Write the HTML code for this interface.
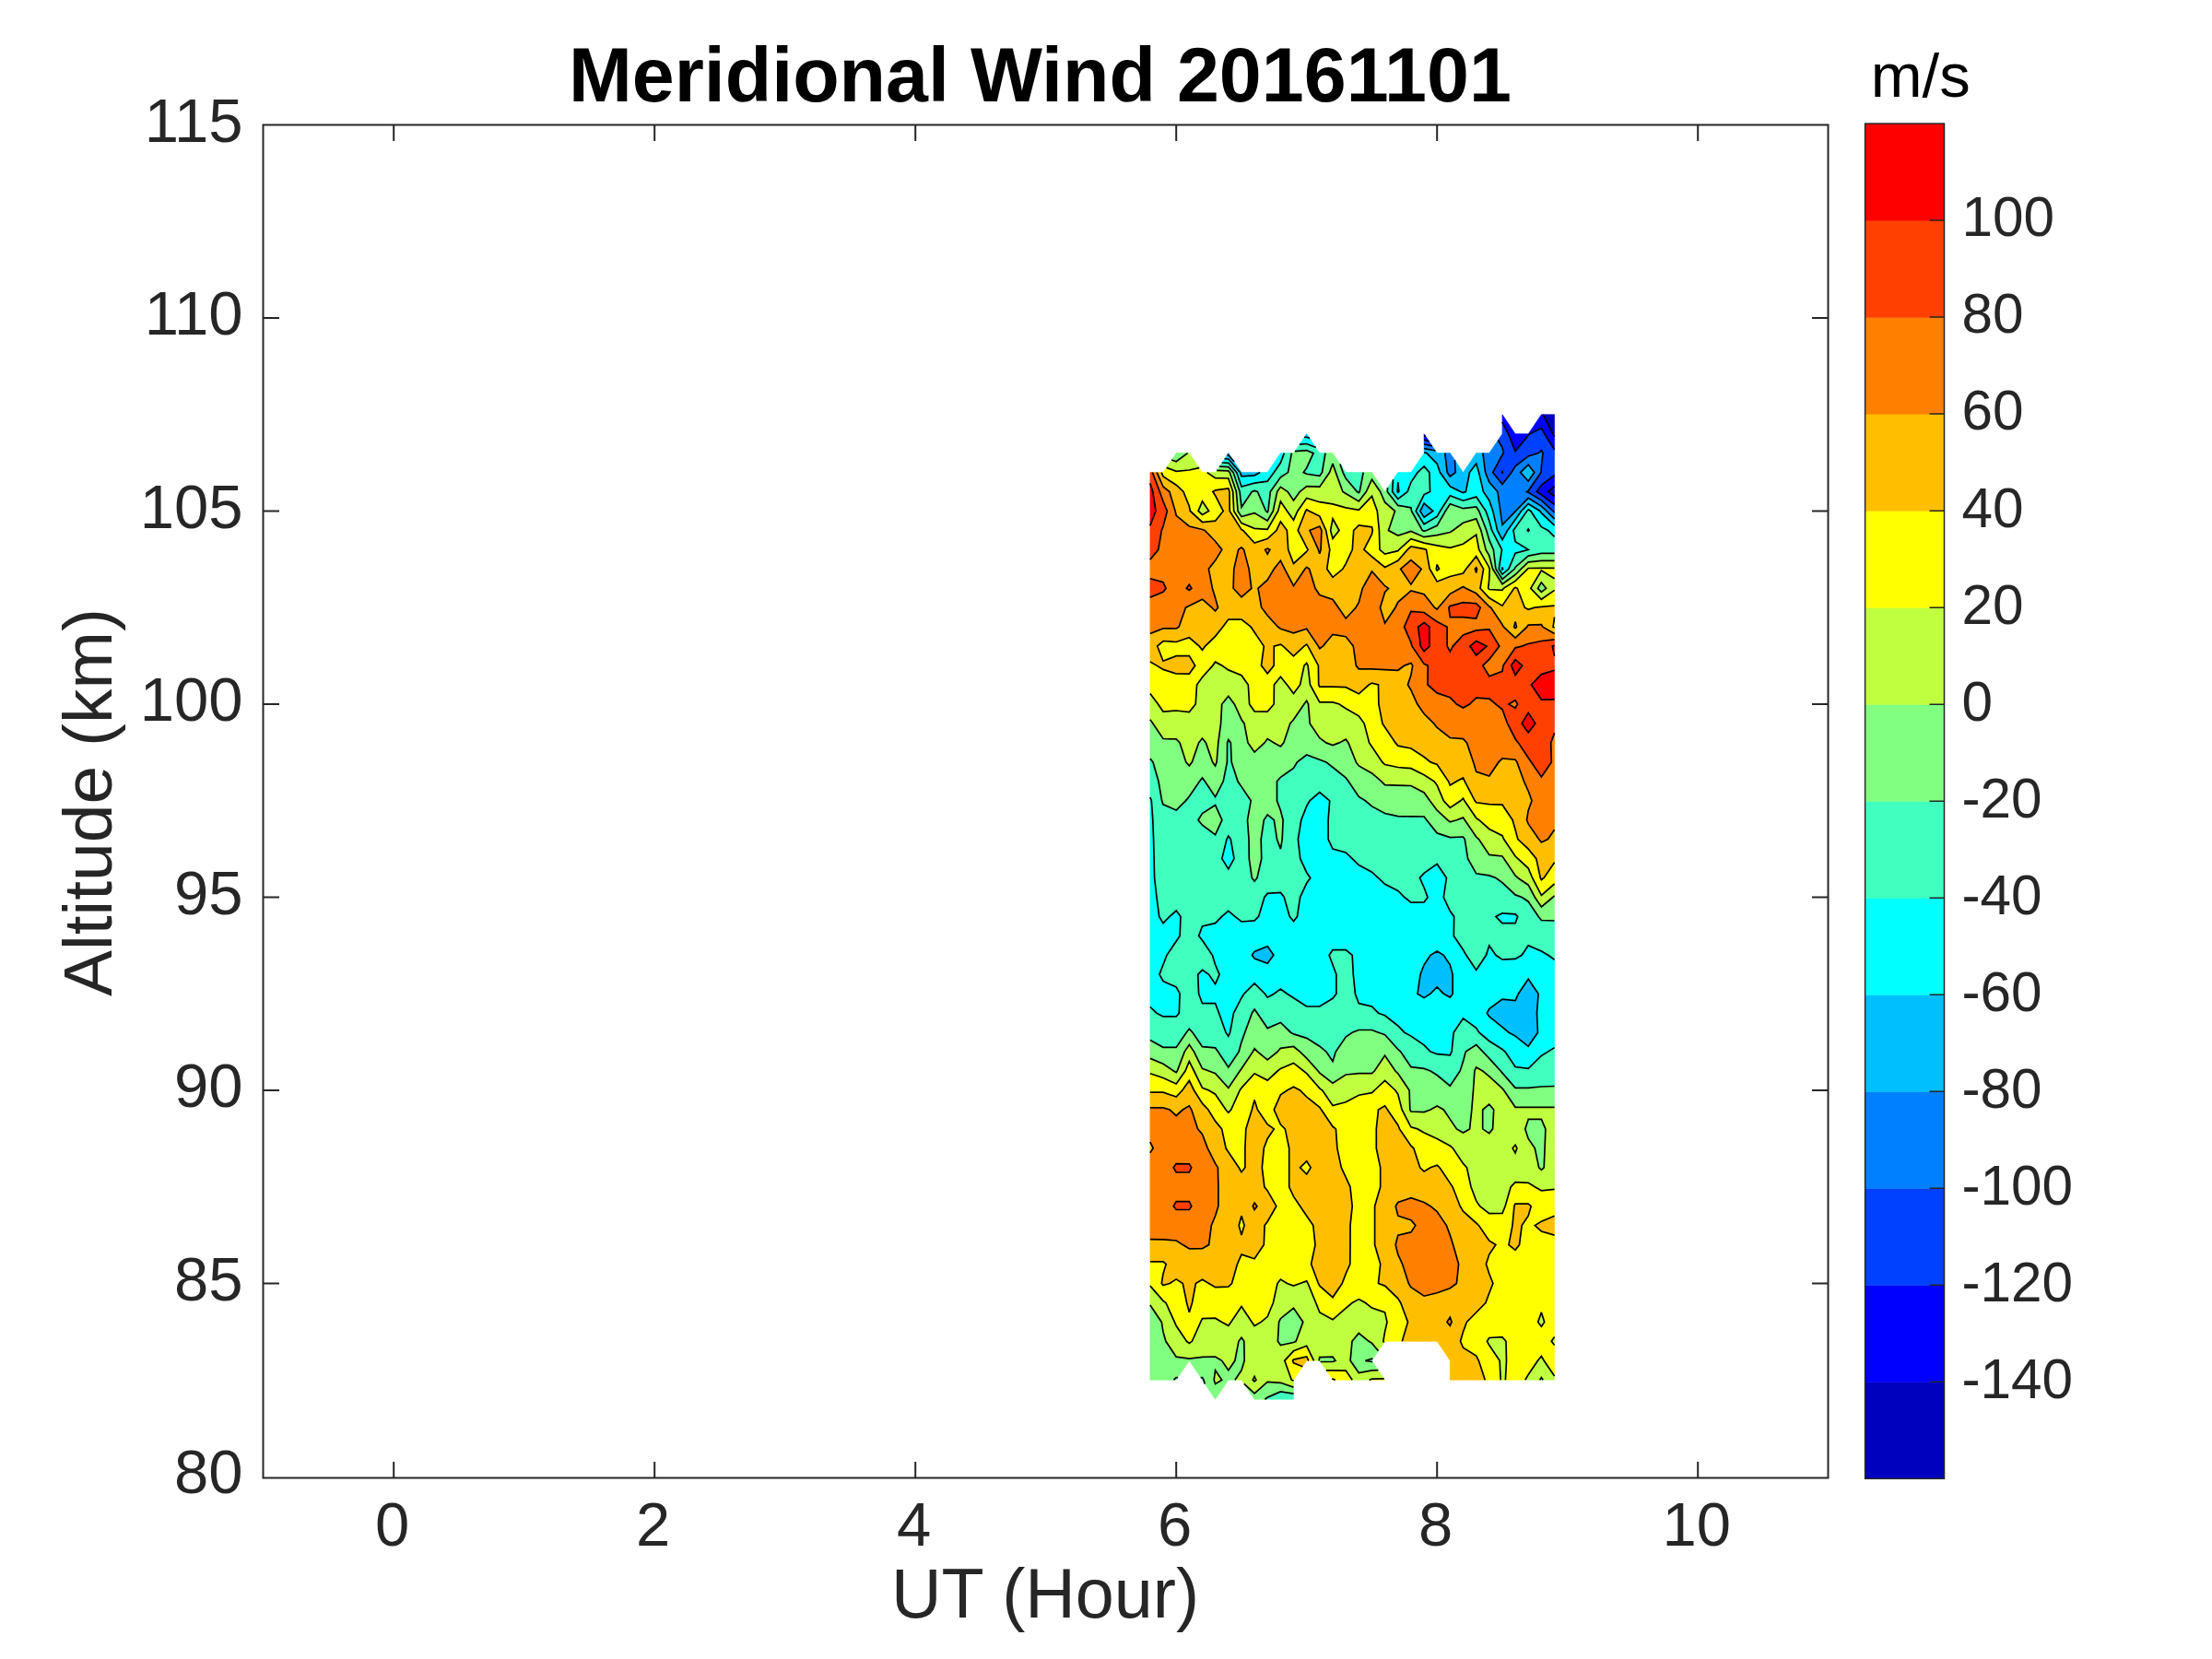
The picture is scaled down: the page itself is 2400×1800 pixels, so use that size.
<!DOCTYPE html><html><head><meta charset="utf-8"><title>Meridional Wind 20161101</title>
<style>html,body{margin:0;padding:0;background:#fff}svg{display:block}text{font-family:"Liberation Sans",sans-serif}</style></head><body>
<svg width="2400" height="1800" viewBox="0 0 2400 1800">
<rect width="2400" height="1800" fill="#fff"/>
<g id="contours"><path fill="#0000bf" stroke="#0000bf" stroke-width="0.6" stroke-linejoin="round" fill-rule="evenodd" d="M1674.3,449.8 1686.6,449.8 1686.6,470.7 1686.6,473.6 1684.8,470.7ZM1545.1,473.0 1545.1,470.7 1546.8,473.3ZM1679.5,533.5 1686.6,527.6 1686.6,533.5 1686.6,538.2Z"/>
<path fill="#0000ff" stroke="#0000ff" stroke-width="0.6" stroke-linejoin="round" fill-rule="evenodd" d="M1630.0,458.1 1630.0,449.8 1644.1,470.7 1658.2,470.7 1672.4,449.8 1674.3,449.8 1684.8,470.7 1686.6,473.6 1686.6,488.0 1675.9,470.7 1672.4,464.5 1659.8,470.7 1658.2,472.2 1644.1,489.6 1636.4,470.7ZM1545.1,477.5 1545.1,473.0 1546.8,473.3 1550.4,478.6ZM1629.5,512.6 1630.0,511.7 1630.4,512.6 1630.0,513.2ZM1667.3,533.5 1672.4,526.3 1686.6,515.6 1686.6,527.6 1679.5,533.5 1686.6,538.2 1686.6,547.5 1672.4,536.7Z"/>
<path fill="#0040ff" stroke="#0040ff" stroke-width="0.6" stroke-linejoin="round" fill-rule="evenodd" d="M1630.0,470.7 1630.0,458.1 1636.4,470.7 1644.1,489.6 1658.3,472.2 1659.8,470.7 1672.4,464.5 1675.9,470.7 1686.6,488.0 1686.6,491.6 1686.6,512.6 1686.6,515.6 1672.4,526.3 1667.3,533.5 1672.4,536.7 1686.6,547.5 1686.6,554.5 1686.6,556.2 1684.9,554.5 1672.4,542.9 1658.2,534.2 1656.5,533.5 1658.2,532.5 1672.0,512.6 1672.4,505.6 1674.1,491.6 1672.4,488.7 1669.3,491.6 1658.2,494.9 1644.1,505.9 1640.0,512.6 1629.9,525.4 1619.7,512.6 1630.0,493.5 1631.4,491.7 1630.0,485.7 1625.4,477.5ZM1630.0,511.7 1629.5,512.6 1630.0,513.2 1630.4,512.6ZM1545.1,482.0 1545.1,477.5 1550.4,478.6 1553.9,483.8Z"/>
<path fill="#0080ff" stroke="#0080ff" stroke-width="0.6" stroke-linejoin="round" fill-rule="evenodd" d="M1545.1,486.6 1545.1,482.0 1553.9,483.8 1557.4,489.0ZM1615.8,491.6 1625.4,477.5 1630.0,485.7 1631.4,491.6 1630.0,493.5 1619.7,512.6 1630.0,525.4 1640.0,512.6 1644.1,505.9 1658.2,494.9 1669.3,491.6 1672.4,488.7 1674.1,491.6 1672.4,505.6 1672.0,512.6 1658.2,532.5 1656.5,533.5 1658.2,534.2 1672.4,542.9 1684.9,554.5 1686.6,556.2 1686.6,563.2 1678.1,554.5 1672.4,549.2 1658.2,540.4 1644.4,554.5 1644.1,554.9 1630.0,569.5 1627.9,554.5 1624.9,533.5 1615.8,523.1 1611.6,512.6 1608.9,491.6ZM1658.2,504.2 1649.6,512.6 1658.2,522.0 1664.8,512.6ZM1331.4,493.7 1332.8,491.6 1339.1,501.0 1332.8,493.8ZM1567.8,491.6 1573.3,491.6 1578.4,499.1 1579.2,512.6 1573.3,517.0 1570.2,512.6Z"/>
<path fill="#00bfff" stroke="#00bfff" stroke-width="0.6" stroke-linejoin="round" fill-rule="evenodd" d="M1415.1,474.5 1417.7,470.7 1421.0,475.6 1417.7,474.3ZM1545.1,491.1 1545.1,486.6 1557.4,489.0 1559.2,491.6 1567.8,491.6 1570.2,512.6 1573.3,517.0 1579.2,512.6 1578.4,499.1 1587.5,512.6 1601.7,491.6 1608.9,491.6 1611.6,512.6 1615.8,523.1 1624.9,533.5 1627.9,554.5 1630.0,569.5 1644.1,554.9 1644.4,554.5 1658.2,540.4 1672.4,549.2 1678.1,554.5 1686.6,563.2 1686.6,570.2 1672.4,556.7 1670.9,554.5 1658.2,546.7 1650.6,554.5 1644.1,563.7 1635.6,575.5 1630.0,585.6 1624.6,575.5 1619.8,554.5 1615.8,542.9 1609.4,533.5 1604.6,512.6 1601.7,503.1 1594.5,512.6 1590.4,533.5 1587.5,534.6 1584.8,533.5 1573.3,527.8 1562.4,512.6 1559.2,503.1 1547.9,491.6ZM1328.6,497.9 1331.4,493.7 1332.8,493.8 1339.1,501.0 1347.0,512.6 1361.1,512.6 1367.2,512.6 1361.1,515.8 1347.0,516.9 1345.5,512.6 1332.8,498.0ZM1649.6,512.6 1658.2,504.2 1664.8,512.6 1658.2,522.0ZM1516.1,533.5 1516.8,523.1 1517.9,533.5 1516.8,534.4ZM1540.8,554.5 1545.1,546.0 1554.8,554.5 1545.1,561.3ZM1629.6,617.3 1630.0,615.4 1630.6,617.3 1630.0,617.9ZM1358.5,1036.3 1361.1,1032.4 1375.2,1026.7 1381.9,1036.3 1375.2,1045.2 1361.1,1040.1ZM1552.1,1036.3 1559.2,1032.1 1566.3,1036.3 1573.3,1046.8 1576.1,1057.3 1576.2,1078.2 1573.3,1082.1 1566.3,1078.2 1559.2,1071.0 1552.1,1078.2 1545.1,1082.6 1538.0,1078.2 1541.1,1057.3 1545.1,1046.8ZM1647.4,1078.2 1658.2,1062.2 1669.1,1078.2 1667.5,1099.2 1668.5,1120.2 1658.2,1135.3 1644.1,1124.1 1637.0,1120.2 1630.0,1114.3 1615.8,1103.0 1613.3,1099.2 1615.8,1094.5 1630.0,1084.1 1644.1,1085.5Z"/>
<path fill="#00ffff" stroke="#00ffff" stroke-width="0.6" stroke-linejoin="round" fill-rule="evenodd" d="M1410.0,482.1 1415.1,474.5 1417.7,474.3 1421.0,475.6 1427.7,485.5 1417.7,481.5ZM1545.1,491.6 1545.1,491.1 1547.9,491.6 1559.2,503.1 1562.4,512.6 1573.3,527.8 1584.8,533.5 1587.5,534.6 1590.4,533.5 1594.5,512.6 1601.7,503.1 1604.6,512.6 1609.4,533.5 1615.8,542.9 1619.8,554.5 1624.6,575.5 1630.0,585.6 1635.6,575.5 1644.1,563.7 1650.6,554.5 1658.2,546.7 1670.9,554.5 1672.4,556.7 1686.6,570.2 1686.6,575.5 1686.6,582.4 1679.5,575.5 1672.4,571.7 1660.8,554.5 1658.2,552.9 1656.7,554.5 1644.1,572.4 1641.9,575.5 1644.1,587.7 1658.2,596.4 1658.2,596.4 1658.2,596.4 1644.1,600.2 1636.9,617.3 1629.9,623.1 1626.3,617.3 1629.5,596.4 1618.7,575.5 1615.8,565.0 1612.1,554.5 1601.7,539.1 1587.5,543.2 1573.3,537.7 1562.6,554.5 1559.2,560.4 1545.1,568.8 1536.2,554.5 1545.1,536.6 1551.6,533.5 1550.9,512.6 1545.1,505.9 1538.1,512.6 1530.9,523.3 1527.1,533.5 1516.8,541.4 1510.7,533.5 1511.5,520.3 1516.8,512.6 1530.9,512.6ZM1630.0,615.4 1629.6,617.3 1630.0,617.9 1630.6,617.3ZM1545.1,546.0 1540.8,554.5 1545.1,561.3 1554.8,554.5ZM1516.8,523.1 1516.1,533.5 1516.8,534.4 1517.9,533.5ZM1325.8,502.0 1328.6,497.9 1332.8,498.0 1345.5,512.6 1347.0,516.9 1361.1,515.8 1367.2,512.6 1375.2,512.6 1389.4,491.6 1393.4,491.6 1389.4,502.1 1382.3,512.6 1375.2,522.2 1361.1,524.2 1347.0,528.0 1341.8,512.6 1332.8,502.3ZM1247.9,868.8 1247.9,865.0 1249.3,868.8 1250.8,889.7 1251.6,910.7 1252.1,931.6 1252.6,952.5 1255.0,973.5 1257.7,994.4 1262.0,1001.7 1269.1,994.4 1276.2,988.0 1281.0,994.5 1280.1,1015.4 1276.2,1021.2 1266.0,1036.3 1262.0,1046.8 1258.0,1057.3 1262.0,1064.5 1276.2,1071.0 1280.1,1078.2 1279.3,1099.2 1276.2,1103.0 1262.0,1102.9 1255.0,1099.2 1247.9,1092.5 1247.9,1078.2 1247.9,1057.3 1247.9,1036.3 1247.9,1015.4 1247.9,994.4 1247.9,973.5 1247.9,952.5 1247.9,931.6 1247.9,910.6 1247.9,889.7ZM1421.0,868.8 1431.8,859.5 1442.7,868.8 1441.1,889.7 1441.1,910.6 1446.0,921.1 1460.2,925.0 1467.2,931.6 1474.3,938.6 1488.5,946.2 1495.5,952.5 1502.6,959.3 1516.8,966.5 1523.8,973.5 1530.9,979.1 1545.1,979.0 1549.0,973.5 1545.1,963.0 1540.4,952.5 1545.1,947.4 1559.2,937.4 1569.4,952.5 1566.3,973.5 1573.3,988.6 1577.6,994.4 1577.3,1015.4 1587.5,1030.5 1590.8,1036.3 1601.7,1052.4 1612.5,1036.3 1615.8,1025.9 1622.9,1036.3 1630.0,1041.1 1644.1,1040.4 1651.2,1036.3 1658.2,1025.9 1672.4,1032.0 1679.5,1036.3 1686.6,1041.3 1686.6,1057.3 1686.6,1078.2 1686.6,1099.2 1686.6,1120.2 1686.6,1136.6 1679.5,1141.1 1672.4,1145.5 1658.2,1159.4 1644.1,1157.5 1633.0,1141.1 1630.0,1138.5 1615.8,1129.5 1604.8,1120.2 1601.7,1115.4 1587.5,1104.9 1577.2,1120.2 1575.1,1141.1 1573.3,1144.8 1559.2,1143.7 1552.1,1141.1 1545.1,1133.9 1530.9,1124.1 1523.8,1120.2 1516.8,1113.0 1502.6,1101.8 1495.5,1099.2 1488.5,1092.0 1474.3,1088.7 1470.4,1078.2 1468.3,1057.3 1467.2,1036.3 1460.2,1030.6 1446.0,1030.7 1442.1,1036.3 1446.0,1046.8 1449.9,1057.3 1449.9,1078.2 1446.0,1083.3 1431.8,1092.0 1417.7,1092.0 1403.5,1082.7 1396.5,1078.2 1389.4,1073.1 1382.3,1078.2 1375.2,1082.2 1372.4,1078.2 1361.1,1067.0 1349.8,1078.2 1347.0,1082.6 1338.5,1099.2 1334.6,1120.2 1332.8,1124.3 1330.0,1120.2 1322.6,1099.2 1318.6,1088.7 1304.5,1088.7 1300.6,1078.2 1299.7,1057.3 1304.5,1052.4 1311.6,1057.3 1318.6,1067.8 1323.1,1057.3 1318.6,1046.8 1315.4,1036.3 1304.5,1020.3 1300.6,1015.4 1304.5,1004.9 1318.6,1001.7 1325.7,994.4 1332.8,988.3 1339.9,994.4 1347.0,1000.0 1361.1,998.9 1365.6,994.4 1371.9,973.5 1375.2,969.4 1389.4,968.4 1393.3,973.5 1399.2,994.4 1403.5,999.6 1407.5,994.4 1410.6,973.5 1417.7,958.3 1421.8,952.6 1417.7,946.7 1410.7,931.6 1408.4,910.6 1411.8,889.7 1417.7,874.6ZM1559.2,1032.1 1552.1,1036.3 1545.1,1046.8 1541.1,1057.3 1538.0,1078.2 1545.1,1082.6 1552.1,1078.2 1559.2,1071.0 1566.3,1078.2 1573.3,1082.1 1576.2,1078.2 1576.1,1057.3 1573.3,1046.8 1566.3,1036.3ZM1658.2,1062.2 1647.4,1078.2 1644.1,1085.5 1630.0,1084.1 1615.8,1094.5 1613.3,1099.2 1615.8,1103.0 1630.0,1114.3 1637.0,1120.2 1644.1,1124.1 1658.2,1135.3 1668.5,1120.2 1667.5,1099.2 1669.1,1078.2ZM1361.1,1032.4 1358.5,1036.3 1361.1,1040.1 1375.2,1045.2 1381.9,1036.3 1375.2,1026.7ZM1331.0,910.6 1332.8,907.1 1335.3,910.6 1339.0,931.6 1332.8,942.9 1325.8,931.6ZM1622.9,994.4 1629.9,990.8 1644.1,991.8 1646.7,994.4 1644.1,1001.7 1629.9,1001.7Z"/>
<path fill="#40ffbf" stroke="#40ffbf" stroke-width="0.6" stroke-linejoin="round" fill-rule="evenodd" d="M1404.9,489.6 1410.0,482.1 1417.7,481.5 1427.7,485.5 1431.8,491.6 1438.0,491.6 1434.5,512.6 1431.8,516.4 1417.7,514.3 1414.2,512.6 1417.7,507.7 1425.0,491.6 1417.7,488.7ZM1323.0,506.2 1325.8,502.0 1332.8,502.3 1341.8,512.6 1347.0,528.0 1361.1,524.2 1375.2,522.2 1382.3,512.6 1389.4,502.1 1393.4,491.6 1401.4,491.6 1397.5,512.6 1389.4,517.8 1378.3,533.5 1375.9,554.5 1375.2,555.7 1373.5,554.5 1364.4,533.5 1361.1,532.5 1358.3,533.5 1347.0,550.3 1345.1,533.5 1338.1,512.6 1332.8,506.6ZM1454.0,503.5 1460.2,512.6 1474.3,512.6 1479.2,512.6 1475.2,533.5 1474.3,534.7 1472.5,533.5 1460.2,519.0 1457.1,512.6ZM1538.1,512.6 1545.1,505.9 1550.9,512.6 1551.6,533.5 1545.1,536.6 1536.2,554.5 1545.1,568.8 1559.2,560.4 1562.6,554.5 1573.3,537.7 1587.5,543.2 1601.7,539.1 1612.1,554.5 1615.8,565.0 1618.7,575.5 1629.5,596.4 1626.3,617.3 1630.0,623.1 1636.9,617.3 1644.1,600.2 1658.2,596.4 1658.2,596.4 1658.2,596.4 1644.1,587.7 1641.9,575.5 1644.1,572.4 1656.7,554.5 1658.2,552.9 1660.8,554.5 1672.4,571.7 1679.5,575.5 1686.6,582.4 1686.6,596.4 1686.6,600.4 1672.4,600.4 1658.2,603.1 1644.1,615.4 1643.3,617.3 1630.0,628.4 1622.9,617.3 1620.4,596.4 1615.8,585.9 1612.8,575.5 1604.7,554.5 1601.7,550.0 1587.5,551.7 1573.3,546.7 1568.3,554.5 1559.2,570.3 1547.8,575.5 1545.1,576.3 1543.3,575.5 1531.5,554.5 1530.9,550.8 1516.8,548.4 1505.3,533.5 1505.6,529.1 1511.5,520.3 1510.7,533.5 1516.8,541.4 1527.1,533.5 1530.9,523.3ZM1658.2,574.1 1657.2,575.5 1658.2,576.4 1659.1,575.5ZM1331.6,805.9 1332.8,802.6 1335.3,805.9 1336.2,826.9 1343.0,847.8 1347.0,853.6 1357.2,868.8 1353.5,889.7 1355.0,910.7 1355.3,931.6 1358.3,952.5 1361.1,956.2 1364.0,952.6 1368.7,931.6 1368.2,910.6 1371.3,889.7 1375.2,883.9 1382.3,889.7 1385.5,910.6 1389.4,921.1 1391.2,910.6 1392.1,889.7 1389.4,879.2 1385.5,868.8 1385.5,847.8 1389.4,843.3 1403.5,833.4 1407.5,826.9 1417.7,819.0 1431.8,824.2 1438.9,826.9 1446.0,832.5 1460.2,843.8 1463.1,847.8 1474.3,864.4 1481.4,868.8 1488.4,874.9 1502.6,882.5 1516.8,885.6 1530.9,885.9 1545.1,886.0 1547.9,889.7 1559.2,903.9 1573.3,908.6 1587.5,908.0 1589.3,910.6 1592.6,931.6 1601.7,947.8 1615.8,949.9 1622.9,952.5 1630.0,957.6 1644.1,970.9 1651.2,973.5 1658.3,978.2 1669.2,994.5 1672.4,998.5 1686.6,999.0 1686.6,1015.4 1686.6,1036.3 1686.6,1041.3 1679.5,1036.3 1672.4,1032.0 1658.2,1025.9 1651.2,1036.3 1644.1,1040.4 1630.0,1041.1 1622.9,1036.3 1615.8,1025.9 1612.5,1036.3 1601.7,1052.4 1590.8,1036.3 1587.5,1030.5 1577.3,1015.4 1577.6,994.4 1573.3,988.6 1566.3,973.5 1569.4,952.5 1559.2,937.4 1545.1,947.4 1540.4,952.5 1545.1,963.0 1549.0,973.5 1545.1,979.0 1530.9,979.1 1523.8,973.5 1516.8,966.5 1502.6,959.3 1495.5,952.5 1488.5,946.2 1474.3,938.6 1467.2,931.6 1460.2,925.0 1446.0,921.1 1441.1,910.6 1441.1,889.7 1442.7,868.8 1431.8,859.5 1421.0,868.8 1417.7,874.6 1411.8,889.7 1408.4,910.6 1410.7,931.6 1417.7,946.7 1421.8,952.5 1417.7,958.3 1410.6,973.5 1407.5,994.4 1403.5,999.6 1399.2,994.4 1393.3,973.5 1389.4,968.4 1375.2,969.4 1371.9,973.5 1365.6,994.4 1361.1,998.9 1347.0,1000.0 1339.9,994.4 1332.8,988.3 1325.7,994.4 1318.6,1001.7 1304.5,1004.9 1300.6,1015.4 1304.5,1020.3 1315.4,1036.3 1318.6,1046.8 1323.1,1057.3 1318.6,1067.8 1311.6,1057.3 1304.5,1052.4 1299.7,1057.3 1300.6,1078.2 1304.5,1088.7 1318.6,1088.7 1322.6,1099.2 1330.0,1120.2 1332.8,1124.3 1334.6,1120.2 1338.5,1099.2 1347.0,1082.6 1349.8,1078.2 1361.1,1067.0 1372.4,1078.2 1375.2,1082.2 1382.3,1078.2 1389.4,1073.1 1396.5,1078.2 1403.5,1082.7 1417.7,1092.0 1431.8,1092.0 1446.0,1083.3 1449.9,1078.2 1449.9,1057.3 1446.0,1046.8 1442.1,1036.3 1446.0,1030.7 1460.2,1030.6 1467.2,1036.3 1468.3,1057.3 1470.4,1078.2 1474.3,1088.7 1488.5,1092.0 1495.5,1099.2 1502.6,1101.8 1516.8,1113.0 1523.8,1120.2 1530.9,1124.1 1545.1,1133.9 1552.1,1141.1 1559.2,1143.7 1573.3,1144.8 1575.1,1141.1 1577.2,1120.2 1587.5,1104.9 1601.7,1115.4 1604.8,1120.2 1615.8,1129.5 1630.0,1138.5 1633.0,1141.1 1644.1,1157.5 1658.2,1159.4 1672.4,1145.5 1679.5,1141.1 1686.6,1136.6 1686.6,1141.1 1686.6,1162.0 1686.6,1178.5 1672.4,1179.0 1658.2,1180.4 1644.1,1180.4 1630.0,1164.1 1628.2,1162.0 1615.8,1148.4 1608.9,1141.1 1601.7,1133.5 1590.3,1141.1 1587.5,1151.6 1584.2,1162.0 1573.3,1178.2 1559.2,1166.5 1552.1,1162.0 1545.1,1159.4 1530.9,1157.6 1519.7,1141.1 1516.8,1138.5 1502.6,1122.8 1495.5,1120.2 1488.5,1117.5 1474.3,1117.5 1467.2,1120.2 1460.2,1125.1 1449.3,1141.1 1446.0,1151.6 1438.9,1141.1 1431.8,1135.2 1417.7,1126.4 1403.5,1121.9 1400.4,1120.2 1389.4,1109.5 1375.2,1115.6 1364.1,1099.2 1361.1,1095.0 1358.4,1099.2 1350.7,1120.2 1347.0,1130.6 1344.1,1141.1 1332.8,1157.9 1321.5,1141.1 1318.6,1136.9 1304.5,1135.7 1294.0,1120.2 1290.3,1116.3 1287.2,1120.2 1276.2,1136.4 1262.1,1136.3 1247.9,1128.4 1247.9,1120.2 1247.9,1099.2 1247.9,1092.5 1255.0,1099.2 1262.0,1102.9 1276.2,1103.0 1279.3,1099.2 1280.1,1078.2 1276.2,1071.0 1262.0,1064.5 1258.0,1057.3 1262.0,1046.8 1266.0,1036.3 1276.2,1021.2 1280.1,1015.4 1281.0,994.5 1276.2,988.0 1269.1,994.4 1262.0,1001.7 1257.7,994.4 1255.0,973.5 1252.6,952.5 1252.1,931.6 1251.6,910.6 1250.8,889.7 1249.3,868.8 1247.9,865.0 1247.9,847.8 1247.9,826.9 1247.9,823.1 1251.0,826.9 1257.0,847.8 1260.6,868.8 1262.0,872.9 1276.2,879.0 1286.4,868.8 1290.3,864.3 1301.5,847.8 1304.5,843.9 1307.3,847.8 1318.6,864.6 1327.2,847.8 1331.4,826.9ZM1332.8,907.1 1331.0,910.6 1325.8,931.6 1332.8,942.9 1339.0,931.6 1335.3,910.6ZM1630.0,990.8 1622.9,994.4 1629.9,1001.7 1644.1,1001.7 1646.7,994.4 1644.1,991.8ZM1304.5,882.5 1300.0,889.7 1304.5,895.2 1318.6,905.8 1325.9,889.7 1318.6,873.6ZM1481.4,1476.3 1488.5,1474.2 1489.2,1475.1 1488.5,1476.3 1489.2,1477.5 1488.5,1477.5ZM1273.4,1497.2 1276.2,1494.6 1278.0,1494.6 1276.2,1497.2ZM1304.5,1497.2 1302.7,1494.6 1304.5,1494.6 1305.9,1497.2 1307.3,1501.4ZM1372.4,1518.2 1375.2,1516.1 1389.4,1509.9 1403.5,1512.1 1403.5,1518.2 1389.4,1518.2 1375.2,1518.2Z"/>
<path fill="#80ff80" stroke="#80ff80" stroke-width="0.6" stroke-linejoin="round" fill-rule="evenodd" d="M1403.5,491.6 1404.9,489.6 1417.7,488.7 1425.0,491.6 1417.7,507.7 1414.2,512.6 1417.7,514.3 1431.8,516.4 1434.5,512.6 1438.0,491.6 1446.0,491.6 1454.0,503.5 1457.1,512.6 1460.2,519.0 1472.5,533.5 1474.3,534.7 1475.2,533.5 1479.2,512.6 1488.5,512.6 1502.6,533.5 1505.6,529.1 1505.3,533.5 1516.8,548.4 1530.9,550.8 1531.5,554.5 1543.3,575.5 1545.1,576.3 1547.8,575.5 1559.2,570.3 1568.3,554.5 1573.3,546.7 1587.5,551.7 1601.7,550.0 1604.7,554.5 1612.8,575.5 1615.8,585.9 1620.4,596.4 1622.9,617.3 1630.0,628.4 1643.3,617.3 1644.1,615.4 1658.2,603.1 1672.4,600.4 1686.6,600.4 1686.6,608.4 1672.4,608.4 1658.2,609.8 1650.3,617.3 1644.1,623.5 1630.0,633.7 1619.6,617.3 1615.8,602.8 1612.1,596.4 1606.9,575.5 1601.7,562.9 1587.5,567.3 1576.5,575.5 1573.3,577.5 1559.2,580.7 1545.1,582.7 1530.9,576.5 1516.8,581.1 1506.5,575.5 1513.5,554.5 1502.6,545.0 1497.5,533.5 1488.5,520.2 1482.3,533.5 1474.3,544.0 1460.2,535.5 1456.9,533.5 1449.3,512.6 1446.0,503.1 1442.6,512.6 1431.9,528.2 1417.7,527.6 1410.3,533.5 1403.5,543.0 1397.2,533.5 1389.4,528.3 1385.7,533.5 1381.3,554.5 1375.2,565.0 1361.1,556.6 1347.0,560.6 1343.1,554.5 1341.4,533.5 1334.3,512.6 1332.8,510.8 1320.2,510.4 1323.0,506.2 1332.8,506.6 1338.1,512.6 1345.1,533.5 1347.0,550.3 1358.3,533.5 1361.1,532.5 1364.4,533.5 1373.5,554.5 1375.2,555.7 1375.9,554.5 1378.3,533.5 1389.4,517.8 1397.5,512.6 1401.4,491.6ZM1271.2,499.0 1276.2,491.6 1288.6,491.6 1276.2,500.8ZM1657.2,575.5 1658.2,574.1 1659.1,575.5 1658.2,576.4ZM1668.5,638.3 1672.4,631.9 1677.5,638.3 1672.4,642.3ZM1325.7,764.0 1332.8,755.3 1339.3,764.0 1347.0,780.7 1350.0,784.9 1354.0,805.9 1361.1,816.0 1372.0,805.9 1375.2,801.6 1382.3,805.9 1389.4,809.9 1392.8,805.9 1399.8,784.9 1403.5,780.8 1414.9,764.0 1417.7,760.3 1419.5,764.0 1421.2,784.9 1431.8,800.7 1438.9,805.9 1446.0,808.5 1453.1,805.9 1460.2,802.2 1463.0,805.9 1471.3,826.9 1474.3,830.9 1488.5,838.9 1498.9,847.8 1502.6,851.7 1516.8,852.1 1530.9,852.5 1545.1,859.9 1551.4,868.8 1559.2,879.2 1570.5,889.7 1573.3,891.8 1580.4,889.7 1587.5,887.1 1589.3,889.7 1601.7,908.0 1604.5,910.6 1615.8,927.4 1630.0,929.0 1631.7,931.6 1644.1,949.9 1646.9,952.5 1658.2,960.2 1665.3,973.5 1672.4,984.0 1684.8,973.5 1686.6,971.9 1686.6,973.5 1686.6,994.4 1686.6,999.0 1672.4,998.5 1669.2,994.4 1658.2,978.2 1651.2,973.5 1644.1,970.9 1630.0,957.6 1622.9,952.5 1615.8,949.9 1601.7,947.8 1592.6,931.6 1589.3,910.6 1587.5,908.0 1573.3,908.6 1559.2,903.9 1547.9,889.7 1545.1,886.0 1530.9,885.9 1516.8,885.6 1502.6,882.5 1488.5,874.9 1481.4,868.8 1474.3,864.4 1463.1,847.8 1460.2,843.8 1446.0,832.5 1438.9,826.9 1431.8,824.2 1417.7,819.0 1407.5,826.9 1403.5,833.4 1389.4,843.3 1385.5,847.8 1385.5,868.8 1389.4,879.2 1392.1,889.7 1391.2,910.6 1389.4,921.1 1385.5,910.6 1382.3,889.7 1375.2,883.9 1371.3,889.7 1368.2,910.6 1368.7,931.6 1364.0,952.5 1361.1,956.2 1358.3,952.5 1355.3,931.6 1355.0,910.6 1353.5,889.7 1357.2,868.8 1347.0,853.6 1343.0,847.8 1336.2,826.8 1335.3,805.9 1332.8,802.6 1331.6,805.9 1331.4,826.9 1327.2,847.8 1318.6,864.6 1307.3,847.8 1304.5,843.9 1301.5,847.8 1290.3,864.3 1286.4,868.8 1276.2,879.0 1262.0,872.9 1260.6,868.8 1257.0,847.8 1251.0,826.9 1247.9,823.1 1247.9,805.9 1247.9,784.9 1247.9,780.8 1250.9,784.9 1262.0,801.5 1276.2,801.9 1280.1,805.9 1286.8,826.9 1290.3,830.8 1293.4,826.9 1300.6,805.9 1304.5,801.0 1308.4,805.9 1315.6,826.9 1318.6,831.0 1320.1,826.9 1321.8,805.9 1324.6,784.9ZM1300.0,889.7 1304.5,882.5 1318.6,873.6 1325.9,889.7 1318.6,905.8 1304.5,895.2ZM1358.4,1099.2 1361.1,1095.0 1364.1,1099.2 1375.2,1115.6 1389.4,1109.5 1400.4,1120.2 1403.5,1121.9 1417.7,1126.4 1431.8,1135.2 1438.9,1141.1 1446.0,1151.6 1449.3,1141.1 1460.2,1125.1 1467.2,1120.2 1474.3,1117.5 1488.5,1117.5 1495.5,1120.2 1502.6,1122.8 1516.8,1138.5 1519.7,1141.1 1530.9,1157.6 1545.1,1159.4 1552.1,1162.0 1559.2,1166.5 1573.3,1178.2 1584.2,1162.0 1587.5,1151.6 1590.3,1141.1 1601.7,1133.5 1608.9,1141.1 1615.8,1148.4 1628.2,1162.0 1630.0,1164.1 1644.1,1180.4 1658.2,1180.4 1672.4,1179.0 1686.6,1178.5 1686.6,1183.0 1686.6,1201.3 1672.4,1201.3 1658.2,1201.3 1644.1,1201.3 1631.7,1183.0 1630.0,1180.9 1615.8,1167.9 1608.7,1162.0 1601.7,1157.9 1599.9,1162.0 1598.5,1183.0 1596.8,1204.0 1594.6,1224.9 1587.5,1228.9 1580.4,1224.9 1573.3,1214.4 1566.3,1204.0 1559.2,1200.0 1552.1,1204.0 1545.1,1206.6 1530.9,1206.0 1529.8,1204.0 1529.1,1183.0 1516.8,1164.7 1513.9,1162.0 1502.6,1145.3 1491.3,1162.0 1488.5,1164.7 1474.3,1164.7 1460.2,1166.0 1446.0,1175.1 1431.8,1164.1 1430.1,1162.0 1417.7,1148.2 1410.4,1141.1 1403.5,1135.5 1389.4,1137.3 1386.1,1141.1 1375.2,1149.9 1364.4,1141.1 1361.1,1137.7 1359.3,1141.1 1347.0,1159.4 1345.2,1162.0 1332.8,1180.4 1318.6,1164.7 1311.6,1162.0 1304.5,1159.4 1295.5,1141.1 1290.3,1133.5 1285.2,1141.1 1277.3,1162.0 1276.2,1163.6 1273.4,1162.0 1262.0,1154.3 1247.9,1148.4 1247.9,1141.1 1247.9,1128.4 1262.0,1136.3 1276.2,1136.4 1287.2,1120.2 1290.3,1116.3 1294.0,1120.2 1304.5,1135.7 1318.6,1136.9 1321.5,1141.1 1332.8,1157.9 1344.1,1141.1 1347.0,1130.6 1350.7,1120.2ZM1608.7,1204.0 1615.8,1198.1 1620.7,1204.0 1619.6,1224.9 1615.8,1229.6 1608.7,1224.9ZM1654.8,1224.9 1658.2,1214.4 1672.4,1214.4 1676.9,1224.9 1676.1,1245.8 1675.2,1266.8 1672.4,1269.4 1669.7,1266.8 1665.3,1245.8 1658.2,1235.4ZM1247.9,1434.4 1247.9,1416.1 1260.3,1434.4 1262.0,1444.9 1264.9,1455.3 1276.2,1472.1 1290.3,1474.2 1304.5,1472.4 1318.6,1472.0 1325.7,1476.3 1332.8,1486.8 1339.9,1476.3 1343.9,1455.3 1347.0,1451.2 1349.8,1455.3 1350.2,1476.3 1347.0,1486.8 1339.9,1497.2 1332.8,1497.2 1318.6,1518.2 1307.3,1501.4 1305.9,1497.2 1304.5,1494.6 1302.7,1494.6 1290.3,1476.3 1278.0,1494.6 1276.2,1494.6 1273.4,1497.2 1262.0,1497.2 1247.9,1497.2 1247.9,1476.3 1247.9,1455.3ZM1318.6,1486.8 1317.2,1497.2 1318.6,1501.4 1325.7,1497.2ZM1387.6,1434.4 1389.4,1430.7 1403.5,1419.3 1413.8,1434.4 1406.1,1455.3 1403.5,1456.5 1389.4,1459.6 1386.4,1455.3ZM1467.0,1455.3 1474.3,1446.5 1485.2,1455.3 1488.5,1457.4 1495.5,1465.8 1489.2,1475.1 1488.5,1474.2 1481.4,1476.3 1488.5,1477.5 1489.2,1477.5 1495.4,1486.7 1488.5,1486.8 1474.3,1489.6 1465.1,1476.3ZM1431.1,1476.3 1431.8,1472.6 1446.0,1472.2 1449.0,1476.3 1446.0,1477.5 1432.6,1477.5 1431.8,1476.3ZM1670.6,1497.2 1672.4,1494.6 1674.2,1497.2 1672.4,1497.2ZM1361.1,1518.2 1349.8,1501.4 1361.1,1511.8 1375.3,1499.3 1389.4,1500.3 1403.5,1505.1 1403.5,1512.1 1389.4,1509.9 1375.3,1516.1 1372.4,1518.2Z"/>
<path fill="#bfff40" stroke="#bfff40" stroke-width="0.6" stroke-linejoin="round" fill-rule="evenodd" d="M1265.6,507.4 1271.2,499.0 1276.2,500.8 1288.6,491.6 1290.3,491.6 1301.2,507.7 1290.3,510.0 1276.2,511.3ZM1318.6,512.6 1320.2,510.4 1332.8,510.8 1334.3,512.6 1341.4,533.5 1343.1,554.5 1347.0,560.6 1361.1,556.6 1375.2,565.0 1381.3,554.5 1385.7,533.5 1389.4,528.3 1397.2,533.5 1403.5,543.0 1410.3,533.5 1417.7,527.6 1431.8,528.2 1442.6,512.6 1446.0,503.1 1449.3,512.6 1456.9,533.5 1460.2,535.5 1474.3,544.0 1482.3,533.5 1488.5,520.2 1497.5,533.5 1502.6,545.0 1513.5,554.5 1506.5,575.5 1516.8,581.1 1530.9,576.5 1545.1,582.7 1559.2,580.7 1573.3,577.5 1576.5,575.5 1587.5,567.3 1601.7,562.9 1606.9,575.5 1612.1,596.4 1615.8,602.8 1619.6,617.3 1630.0,633.7 1644.1,623.5 1650.3,617.3 1658.2,609.8 1672.4,608.4 1686.6,608.4 1686.6,616.4 1672.4,616.4 1658.2,616.5 1657.4,617.3 1644.1,630.4 1631.4,638.3 1630.0,640.4 1615.8,639.5 1614.7,638.3 1615.8,627.8 1616.2,617.3 1615.8,615.7 1604.7,596.4 1601.7,580.3 1587.5,590.2 1573.3,594.3 1559.2,591.8 1545.1,589.1 1530.9,584.7 1517.9,596.4 1516.8,597.7 1502.6,601.1 1497.0,596.4 1496.4,575.5 1494.3,554.5 1488.5,538.4 1474.3,553.3 1460.2,550.8 1446.0,546.9 1431.8,544.7 1417.7,540.4 1407.9,554.5 1403.5,564.2 1396.5,554.5 1389.4,544.0 1386.7,554.5 1375.2,574.3 1361.1,573.4 1347.0,567.6 1338.7,554.5 1337.7,533.5 1332.8,519.0 1318.6,518.7 1309.7,512.6ZM1300.1,554.5 1304.5,543.9 1311.6,554.5 1304.5,558.5ZM1443.6,575.5 1446.0,562.8 1453.0,575.5 1446.0,584.4ZM1558.3,617.3 1559.2,612.5 1561.5,617.3 1559.2,618.9ZM1660.8,638.3 1672.4,619.0 1686.6,627.8 1686.6,638.3 1686.6,640.4 1672.4,650.3ZM1672.4,631.9 1668.5,638.3 1672.4,642.3 1677.5,638.3ZM1315.8,722.1 1318.6,718.2 1325.7,722.1 1332.8,726.9 1347.0,732.8 1354.3,743.0 1355.6,764.0 1361.1,771.8 1375.2,772.1 1382.2,764.0 1382.4,743.0 1389.4,734.3 1396.5,743.0 1403.5,752.5 1410.6,743.0 1415.0,722.1 1417.7,719.5 1419.1,722.1 1421.5,743.0 1431.8,761.9 1446.0,761.9 1453.1,764.0 1460.2,768.7 1474.3,776.8 1480.2,784.9 1485.6,805.9 1488.5,810.0 1499.8,826.9 1502.6,829.5 1516.8,832.5 1530.9,833.7 1545.1,840.8 1556.1,847.8 1559.2,852.0 1566.3,868.8 1573.3,876.4 1584.7,868.8 1587.5,866.1 1588.9,868.8 1601.7,887.6 1604.8,889.7 1615.8,899.5 1630.0,906.7 1631.7,910.6 1644.1,929.0 1646.9,931.6 1658.2,942.1 1662.6,952.5 1672.4,971.4 1686.6,959.0 1686.6,971.9 1684.8,973.5 1672.4,984.0 1665.3,973.5 1658.2,960.2 1646.9,952.5 1644.1,949.9 1631.7,931.6 1630.0,929.0 1615.8,927.4 1604.5,910.6 1601.7,908.0 1589.3,889.7 1587.5,887.1 1580.4,889.7 1573.3,891.8 1570.5,889.7 1559.2,879.2 1551.4,868.8 1545.1,859.9 1530.9,852.5 1516.8,852.1 1502.6,851.7 1498.9,847.8 1488.5,838.9 1474.3,830.9 1471.3,826.9 1463.0,805.9 1460.2,802.2 1453.1,805.9 1446.0,808.5 1438.9,805.9 1431.8,800.7 1421.2,784.9 1419.5,764.0 1417.7,760.3 1414.9,764.0 1403.5,780.8 1399.8,784.9 1392.8,805.9 1389.4,809.9 1382.3,805.9 1375.2,801.6 1372.0,805.9 1361.1,816.0 1354.0,805.9 1350.0,784.9 1347.0,780.7 1339.3,764.0 1332.8,755.3 1325.7,764.0 1324.6,784.9 1321.8,805.9 1320.1,826.9 1318.6,831.0 1315.6,826.8 1308.4,805.9 1304.5,801.0 1300.6,805.9 1293.4,826.8 1290.3,830.8 1286.8,826.9 1280.1,805.9 1276.2,801.9 1262.0,801.5 1250.9,785.0 1247.9,780.8 1247.9,764.0 1247.9,752.6 1256.5,764.0 1262.0,772.0 1276.2,771.0 1290.3,772.6 1297.2,764.0 1298.6,743.0 1304.5,734.8ZM1285.2,1141.1 1290.3,1133.5 1295.5,1141.1 1304.5,1159.4 1311.6,1162.0 1318.6,1164.7 1332.8,1180.4 1345.2,1162.0 1347.0,1159.4 1359.3,1141.1 1361.1,1137.7 1364.4,1141.1 1375.2,1149.9 1386.1,1141.1 1389.4,1137.3 1403.5,1135.5 1410.4,1141.1 1417.7,1148.2 1430.1,1162.0 1431.8,1164.1 1446.0,1175.1 1460.2,1166.0 1474.3,1164.7 1488.5,1164.7 1491.3,1162.0 1502.6,1145.3 1513.9,1162.0 1516.8,1164.7 1529.1,1183.0 1529.8,1204.0 1530.9,1206.0 1545.1,1206.6 1552.1,1204.0 1559.2,1200.0 1566.3,1204.0 1573.3,1214.4 1580.4,1224.9 1587.5,1228.9 1594.6,1224.9 1596.8,1204.0 1598.5,1183.0 1599.9,1162.0 1601.7,1157.9 1608.7,1162.0 1615.8,1167.9 1630.0,1180.9 1631.7,1183.0 1644.1,1201.3 1658.2,1201.3 1672.4,1201.3 1686.6,1201.3 1686.6,1204.0 1686.6,1224.9 1686.6,1245.8 1686.6,1266.8 1686.6,1287.8 1686.6,1290.4 1672.4,1291.8 1665.3,1287.8 1658.2,1283.3 1644.1,1282.6 1639.2,1287.8 1633.1,1308.7 1630.0,1316.5 1615.8,1316.7 1605.6,1308.7 1601.7,1302.9 1596.0,1287.8 1591.5,1266.8 1587.5,1262.4 1576.3,1245.8 1573.3,1243.2 1559.2,1235.4 1545.1,1229.1 1538.0,1224.9 1530.9,1222.8 1521.1,1204.0 1516.8,1187.2 1513.9,1183.0 1502.6,1172.5 1491.3,1183.0 1488.5,1185.6 1474.3,1188.2 1460.2,1195.7 1446.0,1199.5 1434.8,1183.0 1431.8,1180.9 1417.7,1164.7 1414.4,1162.0 1403.5,1153.4 1389.4,1159.4 1386.2,1162.0 1375.2,1172.1 1361.1,1164.7 1347.0,1180.4 1345.2,1183.0 1335.7,1204.0 1332.8,1207.3 1330.0,1204.0 1318.6,1187.2 1311.6,1183.0 1304.5,1180.4 1295.5,1162.0 1290.3,1151.6 1286.0,1162.0 1276.2,1176.0 1262.0,1169.5 1247.9,1164.7 1247.9,1162.0 1247.9,1148.4 1262.0,1154.3 1273.4,1162.0 1276.2,1163.6 1277.3,1162.0ZM1615.8,1198.1 1608.7,1204.0 1608.7,1224.9 1615.8,1229.6 1619.6,1224.9 1620.7,1204.0ZM1644.1,1242.3 1641.2,1245.8 1644.1,1251.0 1645.9,1245.8ZM1658.2,1214.4 1654.8,1224.9 1658.2,1235.4 1665.3,1245.8 1669.7,1266.8 1672.4,1269.4 1675.2,1266.8 1676.1,1245.8 1676.9,1224.9 1672.4,1214.4ZM1386.0,1392.5 1389.4,1388.1 1396.5,1392.5 1403.5,1395.1 1410.6,1392.5 1417.7,1389.9 1419.1,1392.5 1427.7,1413.5 1431.8,1423.9 1446.0,1431.8 1460.2,1419.3 1467.2,1413.5 1474.3,1409.6 1481.4,1413.5 1488.5,1419.1 1502.6,1423.9 1505.0,1434.4 1502.6,1444.9 1500.8,1455.3 1501.8,1456.5 1495.5,1465.8 1488.5,1457.4 1485.2,1455.3 1474.3,1446.5 1467.0,1455.3 1465.1,1476.3 1474.3,1489.6 1488.5,1486.8 1495.4,1486.7 1501.7,1495.9 1488.5,1496.1 1485.6,1497.2 1474.3,1497.2 1467.2,1497.2 1460.2,1487.1 1446.0,1486.8 1438.9,1486.8 1432.6,1477.5 1446.0,1477.5 1449.0,1476.3 1446.0,1472.2 1431.8,1472.6 1431.1,1476.3 1425.5,1476.3 1417.7,1460.3 1403.5,1465.8 1393.8,1476.3 1401.3,1497.2 1403.5,1498.1 1403.5,1505.1 1389.4,1500.3 1375.2,1499.3 1361.1,1511.8 1349.8,1501.4 1347.0,1497.2 1339.9,1497.2 1347.0,1486.8 1350.2,1476.3 1349.8,1455.3 1347.0,1451.2 1343.9,1455.3 1339.9,1476.3 1332.8,1486.8 1325.7,1476.3 1318.6,1472.0 1304.5,1472.4 1290.4,1474.2 1276.2,1472.1 1264.9,1455.3 1262.0,1444.9 1260.3,1434.4 1247.9,1416.1 1247.9,1413.5 1247.9,1395.1 1262.0,1411.4 1265.0,1413.5 1274.4,1434.4 1276.2,1438.6 1287.5,1455.3 1290.4,1457.4 1293.4,1455.3 1302.7,1434.4 1304.5,1430.6 1318.7,1430.2 1325.7,1434.4 1332.8,1438.3 1335.6,1434.4 1347.0,1417.6 1358.3,1434.4 1361.1,1438.5 1368.2,1434.4 1375.2,1428.6 1381.4,1413.5ZM1389.4,1430.7 1387.6,1434.4 1386.4,1455.3 1389.4,1459.6 1403.5,1456.5 1406.1,1455.3 1413.8,1434.4 1403.5,1419.3ZM1361.1,1493.5 1359.3,1497.2 1361.1,1498.9 1362.9,1497.2ZM1668.7,1434.4 1672.4,1423.9 1675.7,1434.4 1672.4,1439.2ZM1613.4,1455.3 1615.8,1451.5 1629.9,1450.7 1634.0,1455.3 1634.5,1476.3 1633.4,1497.2 1630.0,1497.2 1628.2,1497.2 1627.1,1476.3 1615.8,1459.6ZM1683.3,1455.3 1686.6,1450.5 1686.6,1455.3 1686.6,1459.5ZM1668.5,1476.3 1672.4,1471.5 1675.2,1476.3 1686.6,1493.1 1686.6,1497.2 1674.2,1497.2 1672.4,1494.6 1670.6,1497.2 1658.2,1497.2 1654.8,1497.2 1658.2,1491.4ZM1317.2,1497.2 1318.6,1486.8 1325.7,1497.2 1318.6,1501.4Z"/>
<path fill="#ffff00" stroke="#ffff00" stroke-width="0.6" stroke-linejoin="round" fill-rule="evenodd" d="M1262.0,512.6 1265.6,507.4 1276.2,511.3 1290.3,510.0 1301.2,507.7 1304.5,512.6 1309.7,512.6 1318.6,518.7 1332.8,519.0 1337.7,533.5 1338.7,554.5 1347.0,567.6 1361.1,573.4 1375.2,574.3 1386.7,554.5 1389.4,544.0 1396.5,554.5 1403.5,564.2 1407.9,554.5 1417.7,540.4 1431.8,544.7 1446.0,546.9 1460.2,550.8 1474.3,553.3 1488.5,538.4 1494.3,554.5 1496.4,575.5 1497.0,596.4 1502.6,601.1 1516.8,597.7 1517.9,596.4 1530.9,584.7 1545.1,589.1 1559.2,591.8 1573.3,594.3 1587.5,590.2 1601.7,580.3 1604.7,596.4 1615.8,615.7 1616.2,617.3 1615.8,627.8 1614.7,638.3 1615.8,639.5 1630.0,640.4 1631.4,638.3 1644.1,630.4 1657.4,617.3 1658.2,616.5 1672.4,616.4 1686.6,616.4 1686.6,617.3 1686.6,627.8 1672.4,619.0 1660.8,638.3 1672.4,650.3 1686.6,640.4 1686.6,657.2 1672.4,658.3 1665.3,659.2 1658.2,661.3 1654.3,659.2 1646.3,638.3 1644.1,637.4 1642.7,638.3 1630.0,657.2 1615.8,648.8 1606.0,638.3 1609.6,617.3 1601.7,603.6 1590.7,617.3 1587.5,622.0 1573.3,625.5 1559.2,631.0 1551.2,617.3 1547.5,596.4 1545.1,595.6 1530.9,593.0 1527.1,596.4 1516.8,608.2 1502.6,615.5 1488.5,604.0 1479.9,596.4 1488.5,579.6 1489.3,575.5 1488.5,571.8 1474.3,569.8 1468.7,575.5 1467.3,596.4 1460.2,611.6 1456.9,617.3 1446.0,626.3 1439.7,617.3 1442.8,596.4 1438.7,575.5 1431.8,560.1 1420.4,554.5 1417.7,552.9 1416.6,554.5 1408.2,575.5 1417.7,593.8 1419.1,596.4 1417.7,598.5 1403.5,611.5 1397.7,596.4 1396.4,575.5 1389.4,566.0 1384.9,575.5 1375.2,584.6 1361.1,589.1 1348.7,575.5 1347.0,574.6 1334.2,554.5 1334.0,533.5 1332.8,530.0 1318.6,531.9 1315.9,533.5 1318.6,537.7 1327.2,554.5 1318.6,565.2 1304.5,566.5 1291.4,554.5 1290.3,549.3 1284.0,533.5 1276.2,526.2 1262.0,516.9 1260.2,512.6ZM1304.5,543.9 1300.1,554.5 1304.5,558.5 1311.6,554.5ZM1446.0,562.8 1443.6,575.5 1446.0,584.4 1453.0,575.5ZM1559.2,612.5 1558.3,617.3 1559.2,618.9 1561.5,617.3ZM1326.7,680.2 1332.8,672.1 1347.0,672.0 1357.2,680.2 1361.1,686.0 1371.3,701.1 1368.5,722.1 1375.2,730.8 1382.2,722.1 1382.3,701.1 1389.4,699.1 1392.2,701.1 1403.5,711.9 1414.9,701.1 1417.7,699.1 1419.1,701.1 1430.4,722.1 1430.7,743.0 1431.8,745.1 1446.0,745.1 1460.2,745.7 1474.3,752.8 1485.2,743.0 1488.5,741.1 1495.5,743.0 1495.9,764.0 1499.9,784.9 1502.6,789.0 1514.0,805.9 1516.8,809.2 1530.9,812.0 1545.1,821.3 1552.1,826.9 1559.2,829.5 1571.6,847.8 1573.4,852.0 1580.4,847.8 1587.5,843.9 1589.3,847.8 1600.2,868.8 1601.7,870.8 1615.8,872.6 1630.0,873.2 1641.1,889.7 1644.1,900.2 1646.9,910.6 1658.2,921.1 1666.8,931.6 1671.3,952.6 1672.4,954.6 1675.2,952.5 1686.6,935.8 1686.6,952.5 1686.6,959.0 1672.4,971.4 1662.6,952.5 1658.2,942.1 1646.9,931.6 1644.1,929.0 1631.7,910.6 1630.0,906.7 1615.8,899.5 1604.8,889.7 1601.7,887.6 1588.9,868.8 1587.5,866.1 1584.7,868.8 1573.3,876.4 1566.3,868.8 1559.2,852.0 1556.1,847.8 1545.1,840.8 1530.9,833.7 1516.8,832.5 1502.6,829.5 1499.8,826.9 1488.4,810.0 1485.6,805.9 1480.2,785.0 1474.3,776.8 1460.2,768.7 1453.1,764.0 1446.0,761.9 1431.8,761.9 1421.5,743.0 1419.1,722.1 1417.7,719.5 1415.0,722.1 1410.6,743.0 1403.5,752.5 1396.5,743.0 1389.4,734.3 1382.4,743.0 1382.2,764.0 1375.2,772.1 1361.1,771.8 1355.6,764.0 1354.3,743.0 1347.0,732.8 1332.8,726.9 1325.7,722.1 1318.6,718.2 1315.8,722.1 1304.5,734.8 1298.6,743.0 1297.2,764.0 1290.3,772.6 1276.2,771.0 1262.0,772.0 1256.5,764.0 1247.9,752.6 1247.9,743.0 1247.9,722.1 1247.9,717.9 1255.0,722.1 1262.0,726.4 1276.2,731.0 1290.3,731.2 1296.7,722.1 1290.3,711.6 1276.2,711.6 1262.0,717.2 1255.7,701.1 1262.0,695.5 1276.2,696.5 1290.3,691.8 1301.2,701.1 1304.5,705.3 1307.6,701.1 1318.6,690.4ZM1642.7,680.2 1644.1,674.4 1645.5,680.2 1644.1,681.5ZM1685.1,680.2 1686.6,669.7 1686.6,680.2 1686.6,681.0ZM1286.0,1162.0 1290.3,1151.6 1295.5,1162.0 1304.5,1180.4 1311.6,1183.0 1318.6,1187.2 1330.0,1204.0 1332.8,1207.3 1335.7,1204.0 1345.2,1183.0 1347.0,1180.4 1361.1,1164.7 1375.2,1172.1 1386.2,1162.0 1389.4,1159.4 1403.5,1153.4 1414.4,1162.0 1417.7,1164.7 1431.8,1180.9 1434.8,1183.0 1446.0,1199.5 1460.2,1195.7 1474.3,1188.2 1488.5,1185.6 1491.3,1183.0 1502.6,1172.5 1513.9,1183.0 1516.8,1187.2 1521.1,1204.0 1530.9,1222.8 1538.0,1224.9 1545.1,1229.1 1559.2,1235.4 1573.3,1243.2 1576.3,1245.8 1587.5,1262.4 1591.5,1266.8 1596.0,1287.8 1601.7,1302.9 1605.6,1308.7 1615.8,1316.7 1630.0,1316.5 1633.1,1308.7 1639.2,1287.8 1644.1,1282.6 1658.2,1283.3 1665.3,1287.8 1672.4,1291.8 1686.6,1290.4 1686.6,1308.7 1686.6,1319.2 1672.4,1325.3 1665.3,1329.6 1672.4,1336.0 1686.6,1340.1 1686.6,1350.6 1686.6,1371.5 1686.6,1392.5 1686.6,1413.5 1686.6,1434.4 1686.6,1450.5 1683.3,1455.3 1686.6,1459.5 1686.6,1476.3 1686.6,1493.1 1675.2,1476.3 1672.4,1471.5 1668.5,1476.3 1658.2,1491.4 1654.8,1497.2 1644.1,1497.2 1633.4,1497.2 1634.5,1476.3 1634.0,1455.3 1629.9,1450.7 1615.8,1451.5 1613.4,1455.3 1615.8,1459.6 1627.1,1476.3 1628.2,1497.2 1615.8,1497.2 1611.3,1497.2 1604.4,1476.3 1601.7,1471.1 1587.5,1462.2 1584.5,1455.3 1587.5,1444.9 1591.4,1434.4 1601.7,1424.0 1611.9,1413.5 1615.8,1403.0 1619.9,1392.5 1615.8,1382.0 1612.4,1371.5 1615.8,1361.1 1622.9,1350.6 1615.8,1346.2 1604.6,1329.7 1601.7,1327.0 1587.5,1314.1 1584.2,1308.7 1576.1,1287.8 1573.3,1283.6 1562.0,1266.8 1559.2,1264.2 1552.1,1266.8 1545.1,1271.0 1540.7,1266.8 1533.8,1245.8 1530.9,1243.2 1518.5,1224.9 1516.8,1220.7 1505.4,1204.0 1502.6,1199.8 1495.5,1204.0 1493.3,1224.9 1493.3,1245.8 1497.7,1266.8 1497.7,1287.8 1491.6,1308.7 1491.6,1329.6 1491.6,1350.6 1497.7,1371.5 1495.5,1392.5 1502.6,1395.1 1516.8,1408.9 1519.7,1413.5 1527.5,1434.4 1521.3,1455.3 1516.8,1455.3 1502.6,1455.3 1501.8,1456.5 1500.8,1455.3 1502.6,1444.9 1505.0,1434.4 1502.6,1423.9 1488.5,1419.1 1481.4,1413.5 1474.3,1409.6 1467.2,1413.5 1460.2,1419.3 1446.0,1431.8 1431.8,1423.9 1427.7,1413.5 1419.1,1392.5 1417.7,1389.9 1410.6,1392.5 1403.5,1395.1 1396.5,1392.5 1389.4,1388.1 1386.0,1392.5 1381.4,1413.5 1375.2,1428.6 1368.2,1434.4 1361.1,1438.5 1358.3,1434.4 1347.0,1417.6 1335.6,1434.4 1332.8,1438.3 1325.7,1434.4 1318.6,1430.2 1304.5,1430.6 1302.7,1434.4 1293.4,1455.3 1290.3,1457.4 1287.5,1455.3 1276.2,1438.6 1274.4,1434.4 1265.0,1413.5 1262.0,1411.4 1247.9,1395.1 1247.9,1392.5 1247.9,1371.5 1247.9,1368.9 1262.0,1368.9 1265.2,1371.6 1262.0,1382.0 1260.3,1392.5 1262.0,1394.6 1269.1,1392.5 1276.2,1387.9 1283.3,1392.5 1287.6,1413.5 1290.3,1423.9 1293.5,1413.5 1297.4,1392.5 1304.5,1388.3 1311.6,1392.5 1318.6,1396.7 1332.8,1396.2 1336.5,1392.5 1342.5,1371.5 1347.0,1361.1 1361.1,1365.7 1371.3,1350.6 1372.1,1329.6 1375.2,1325.5 1384.8,1308.7 1375.2,1291.9 1371.9,1287.8 1369.3,1266.8 1371.3,1245.8 1375.2,1235.4 1382.3,1224.9 1375.2,1220.0 1364.4,1204.0 1361.1,1193.5 1358.3,1204.0 1351.8,1224.9 1350.9,1245.8 1350.9,1266.8 1347.0,1271.7 1344.1,1266.8 1332.8,1250.1 1330.1,1245.8 1325.6,1224.9 1318.6,1216.4 1310.9,1204.0 1304.5,1197.2 1295.5,1183.0 1290.3,1172.5 1282.8,1183.0 1276.2,1190.0 1262.0,1185.1 1247.9,1185.1 1247.9,1183.0 1247.9,1164.7 1262.0,1169.5 1276.2,1176.0ZM1403.5,1179.3 1396.5,1183.0 1389.4,1187.9 1382.3,1204.0 1389.4,1220.0 1394.3,1224.9 1398.7,1245.8 1398.7,1266.8 1398.7,1287.8 1403.5,1298.2 1410.6,1308.7 1417.7,1319.2 1424.8,1329.6 1427.0,1350.6 1422.6,1371.5 1430.4,1392.5 1431.8,1395.1 1446.0,1407.6 1456.2,1392.5 1460.2,1382.0 1464.8,1371.5 1465.0,1350.6 1465.0,1329.6 1467.2,1308.7 1465.0,1287.8 1460.2,1277.3 1455.3,1266.8 1450.9,1245.8 1449.4,1224.9 1446.0,1222.3 1433.6,1204.0 1431.8,1201.3 1417.7,1190.2 1410.6,1183.0ZM1644.1,1306.1 1642.9,1308.7 1641.0,1329.6 1637.0,1350.6 1644.1,1356.3 1648.5,1350.6 1651.2,1329.6 1658.2,1319.2 1661.2,1308.7 1658.2,1306.1ZM1672.4,1423.9 1668.7,1434.4 1672.4,1439.2 1675.7,1434.4ZM1641.2,1245.8 1644.1,1242.3 1645.9,1245.8 1644.1,1251.0ZM1410.6,1266.8 1417.7,1259.8 1422.2,1266.8 1417.7,1274.0ZM1344.2,1329.6 1347.0,1319.2 1350.1,1329.6 1347.0,1340.1ZM1393.8,1476.3 1403.5,1465.8 1417.7,1460.3 1425.5,1476.3 1419.9,1476.3 1417.7,1471.9 1403.5,1475.1 1402.5,1476.3 1403.5,1478.9 1413.4,1482.7 1403.5,1497.2 1403.5,1498.1 1401.3,1497.2ZM1359.3,1497.2 1361.1,1493.5 1362.9,1497.2 1361.1,1498.9ZM1445.2,1496.1 1438.9,1486.8 1446.0,1486.8 1460.2,1487.1 1467.2,1497.2 1460.2,1497.2 1448.8,1497.2 1446.0,1496.1ZM1485.6,1497.2 1488.5,1496.1 1501.7,1495.9 1502.6,1497.2 1488.5,1497.2Z"/>
<path fill="#ffbf00" stroke="#ffbf00" stroke-width="0.6" stroke-linejoin="round" fill-rule="evenodd" d="M1255.3,512.6 1260.2,512.6 1262.0,516.9 1276.2,526.2 1284.0,533.5 1290.3,549.3 1291.4,554.5 1304.5,566.5 1318.6,565.2 1327.2,554.5 1318.6,537.7 1315.9,533.5 1318.6,531.9 1332.8,530.0 1334.0,533.5 1334.2,554.5 1347.0,574.6 1348.7,575.5 1361.1,589.1 1375.2,584.6 1384.9,575.5 1389.4,566.0 1396.4,575.5 1397.7,596.4 1403.5,611.5 1417.7,598.5 1419.1,596.4 1417.7,593.8 1408.2,575.5 1416.6,554.5 1417.7,552.9 1420.4,554.5 1431.8,560.1 1438.7,575.5 1442.8,596.4 1439.7,617.3 1446.0,626.3 1456.9,617.3 1460.2,611.6 1467.3,596.4 1468.7,575.5 1474.3,569.8 1488.5,571.8 1489.3,575.5 1488.4,579.6 1479.9,596.4 1488.5,604.0 1502.6,615.5 1516.8,608.2 1527.1,596.4 1530.9,593.0 1545.1,595.6 1547.5,596.4 1551.2,617.3 1559.2,631.0 1573.3,625.5 1587.5,622.0 1590.7,617.3 1601.7,603.6 1609.6,617.3 1606.0,638.3 1615.8,648.8 1630.0,657.2 1642.7,638.3 1644.1,637.4 1646.3,638.3 1654.3,659.2 1658.2,661.3 1665.3,659.2 1672.4,658.3 1686.6,657.2 1686.6,659.2 1686.6,669.7 1685.1,680.2 1686.6,681.0 1686.6,687.5 1673.8,680.2 1672.4,677.6 1658.2,678.1 1656.8,680.2 1644.1,692.0 1631.4,680.2 1630.0,677.6 1617.6,659.2 1615.8,658.1 1601.7,643.8 1590.3,638.3 1587.5,636.5 1584.4,638.3 1573.3,644.3 1560.6,659.2 1559.2,661.0 1556.5,659.2 1545.1,644.8 1530.9,640.9 1516.8,653.4 1513.9,659.2 1502.6,676.0 1497.5,659.2 1502.6,642.5 1506.5,638.3 1502.6,635.7 1488.5,620.0 1478.3,638.3 1474.3,653.7 1471.0,659.2 1460.2,671.0 1452.2,659.2 1446.0,650.4 1431.8,645.5 1427.0,638.3 1420.6,617.3 1417.7,615.3 1415.9,617.3 1403.5,635.7 1393.9,617.3 1389.4,608.3 1382.3,617.3 1375.2,629.1 1365.0,638.3 1368.7,659.2 1375.2,667.7 1386.5,680.2 1389.4,682.3 1403.5,686.9 1417.7,682.3 1430.4,701.1 1431.8,703.8 1435.4,701.1 1446.0,688.3 1460.2,690.7 1468.3,701.1 1471.3,722.1 1474.3,725.8 1488.4,725.8 1502.6,726.6 1516.8,727.3 1523.8,722.1 1530.9,719.5 1532.7,722.1 1530.9,732.6 1527.4,743.1 1530.9,748.7 1537.8,764.0 1545.1,774.5 1555.6,784.9 1559.2,789.5 1573.3,800.5 1587.5,801.6 1591.5,805.9 1598.6,826.8 1601.7,837.3 1615.8,842.0 1626.0,826.9 1630.0,822.8 1644.1,824.2 1645.9,826.9 1653.5,847.8 1658.2,858.3 1662.0,868.8 1658.2,879.2 1656.5,889.7 1658.3,893.9 1669.6,910.6 1672.4,913.9 1679.5,910.6 1686.6,900.2 1686.6,910.6 1686.6,931.6 1686.6,935.8 1675.2,952.5 1672.4,954.6 1671.3,952.5 1666.8,931.6 1658.2,921.1 1646.9,910.6 1644.1,900.2 1641.1,889.7 1630.0,873.2 1615.8,872.6 1601.7,870.8 1600.2,868.8 1589.3,847.8 1587.5,843.9 1580.4,847.8 1573.3,852.0 1571.6,847.8 1559.2,829.5 1552.1,826.9 1545.1,821.3 1530.9,812.0 1516.8,809.2 1514.0,805.9 1502.6,789.0 1499.9,784.9 1495.9,764.0 1495.5,743.0 1488.5,741.1 1485.2,743.0 1474.3,752.8 1460.2,745.7 1446.0,745.1 1431.8,745.1 1430.7,743.0 1430.4,722.1 1419.1,701.1 1417.7,699.1 1414.9,701.1 1403.5,711.9 1392.2,701.1 1389.4,699.1 1382.3,701.1 1382.2,722.1 1375.2,730.8 1368.5,722.1 1371.3,701.1 1361.1,686.0 1357.2,680.2 1347.0,672.0 1332.8,672.1 1326.7,680.2 1318.6,690.4 1307.6,701.1 1304.5,705.3 1301.2,701.1 1290.3,691.8 1276.2,696.5 1262.0,695.5 1255.7,701.1 1262.0,717.2 1276.2,711.6 1290.3,711.6 1296.7,722.1 1290.3,731.2 1276.2,731.0 1262.0,726.4 1255.0,722.1 1247.9,717.9 1247.9,701.1 1247.9,687.5 1262.0,681.9 1276.2,682.0 1279.1,680.2 1286.5,659.2 1290.3,657.2 1304.5,650.2 1314.7,659.2 1318.6,663.0 1321.5,659.2 1318.6,648.8 1315.4,638.3 1311.4,617.3 1318.6,608.1 1325.8,596.4 1318.6,587.2 1307.2,575.5 1304.5,574.5 1290.3,571.0 1276.2,559.3 1275.1,554.5 1268.9,533.5 1262.1,528.0ZM1347.0,593.8 1343.6,596.4 1338.8,617.3 1338.1,638.3 1347.0,647.8 1357.8,638.3 1355.1,617.3 1349.6,596.4ZM1375.2,595.1 1372.6,596.4 1375.2,601.3 1377.9,596.4ZM1431.8,571.0 1421.0,575.5 1430.4,596.4 1431.8,600.7 1433.1,596.4 1433.9,575.5ZM1530.9,607.7 1519.6,617.3 1530.9,634.1 1542.2,617.3ZM1601.6,615.8 1600.4,617.3 1601.7,621.5 1602.5,617.3ZM1644.1,674.4 1642.7,680.2 1644.1,681.5 1645.5,680.2ZM1282.8,1183.0 1290.3,1172.5 1295.5,1183.0 1304.5,1197.2 1310.9,1204.0 1318.6,1216.4 1325.6,1224.9 1330.1,1245.8 1332.8,1250.1 1344.1,1266.8 1347.0,1271.7 1350.9,1266.8 1350.9,1245.8 1351.8,1224.9 1358.3,1204.0 1361.1,1193.5 1364.4,1204.0 1375.2,1220.0 1382.3,1224.9 1375.2,1235.4 1371.3,1245.8 1369.3,1266.8 1371.9,1287.8 1375.2,1291.9 1384.8,1308.7 1375.2,1325.5 1372.1,1329.6 1371.3,1350.6 1361.1,1365.7 1347.0,1361.1 1342.5,1371.5 1336.5,1392.5 1332.8,1396.2 1318.6,1396.7 1311.6,1392.5 1304.5,1388.3 1297.4,1392.5 1293.5,1413.5 1290.3,1423.9 1287.6,1413.5 1283.3,1392.5 1276.2,1387.9 1269.1,1392.5 1262.0,1394.6 1260.3,1392.5 1262.0,1382.0 1265.2,1371.6 1262.0,1368.9 1247.9,1368.9 1247.9,1350.6 1247.9,1344.6 1262.0,1344.9 1276.2,1346.0 1283.3,1350.6 1290.3,1354.8 1304.5,1354.7 1311.6,1350.6 1314.3,1329.6 1318.6,1319.2 1321.9,1308.7 1321.9,1287.8 1321.4,1266.8 1318.6,1262.4 1310.3,1245.8 1304.5,1230.7 1299.6,1224.9 1292.8,1204.0 1290.3,1199.8 1283.3,1204.0 1276.2,1210.5 1269.1,1204.0 1262.0,1201.9 1247.9,1201.9 1247.9,1185.1 1262.0,1185.1 1276.2,1190.0ZM1347.0,1319.2 1344.2,1329.6 1347.0,1340.1 1350.1,1329.6ZM1361.1,1305.1 1359.3,1308.7 1361.1,1312.5 1363.9,1308.7ZM1396.5,1183.0 1403.5,1179.3 1410.6,1183.0 1417.7,1190.2 1431.8,1201.3 1433.6,1204.0 1446.0,1222.3 1449.4,1224.9 1450.9,1245.8 1455.3,1266.8 1460.2,1277.3 1465.0,1287.8 1467.2,1308.7 1465.0,1329.6 1465.0,1350.6 1464.8,1371.5 1460.2,1382.0 1456.2,1392.5 1446.0,1407.6 1431.8,1395.1 1430.4,1392.5 1422.6,1371.5 1427.0,1350.6 1424.8,1329.6 1417.7,1319.2 1410.6,1308.7 1403.5,1298.2 1398.7,1287.8 1398.7,1266.8 1398.7,1245.8 1394.3,1224.9 1389.4,1220.0 1382.3,1204.0 1389.4,1187.9ZM1417.7,1259.8 1410.6,1266.8 1417.7,1274.0 1422.2,1266.8ZM1495.5,1204.0 1502.6,1199.8 1505.4,1204.0 1516.8,1220.7 1518.5,1224.9 1530.9,1243.2 1533.8,1245.8 1540.7,1266.8 1545.1,1271.0 1552.1,1266.8 1559.2,1264.2 1562.0,1266.8 1573.3,1283.6 1576.1,1287.8 1584.2,1308.7 1587.5,1314.1 1601.7,1327.0 1604.6,1329.7 1615.8,1346.2 1622.9,1350.6 1615.8,1361.1 1612.4,1371.5 1615.8,1382.0 1619.9,1392.5 1615.8,1403.0 1611.9,1413.5 1601.7,1424.0 1591.4,1434.4 1587.5,1444.9 1584.5,1455.3 1587.5,1462.2 1601.7,1471.1 1604.4,1476.3 1611.3,1497.2 1601.7,1497.2 1587.5,1497.2 1573.3,1497.2 1573.3,1476.3 1559.2,1455.3 1545.1,1455.3 1530.9,1455.3 1521.3,1455.3 1527.5,1434.4 1519.7,1413.5 1516.8,1408.9 1502.6,1395.1 1495.5,1392.5 1497.7,1371.5 1491.6,1350.6 1491.6,1329.7 1491.6,1308.7 1497.7,1287.8 1497.7,1266.8 1493.3,1245.8 1493.3,1224.9ZM1516.8,1304.5 1514.2,1308.7 1516.8,1319.2 1530.9,1323.8 1535.8,1329.6 1530.9,1336.9 1516.8,1340.1 1514.2,1350.6 1516.8,1361.1 1521.6,1371.5 1528.3,1392.5 1530.9,1396.6 1545.1,1406.2 1559.2,1402.7 1573.4,1397.7 1580.4,1392.5 1582.6,1371.5 1576.6,1350.6 1573.3,1340.1 1569.4,1329.6 1559.2,1314.5 1552.1,1308.7 1545.1,1304.5 1530.9,1299.7ZM1573.4,1429.2 1569.9,1434.4 1573.3,1438.4 1575.1,1434.4ZM1247.9,1245.8 1247.9,1239.2 1251.2,1245.8 1247.9,1250.7ZM1642.9,1308.7 1644.1,1306.1 1658.2,1306.1 1661.2,1308.7 1658.2,1319.2 1651.2,1329.6 1648.5,1350.6 1644.1,1356.3 1637.0,1350.6 1641.0,1329.6ZM1665.3,1329.6 1672.4,1325.3 1686.6,1319.2 1686.6,1329.6 1686.6,1340.1 1672.4,1336.0ZM1402.5,1476.3 1403.5,1475.1 1417.7,1471.9 1419.9,1476.3 1417.7,1476.3 1413.4,1482.7 1403.5,1478.9ZM1446.0,1497.2 1445.2,1496.1 1446.0,1496.1 1448.8,1497.2Z"/>
<path fill="#ff8000" stroke="#ff8000" stroke-width="0.6" stroke-linejoin="round" fill-rule="evenodd" d="M1250.4,512.6 1255.3,512.6 1262.0,528.0 1268.9,533.5 1275.1,554.5 1276.2,559.3 1290.3,571.0 1304.5,574.5 1307.2,575.5 1318.6,587.2 1325.8,596.4 1318.6,608.1 1311.4,617.3 1315.4,638.3 1318.6,648.8 1321.5,659.2 1318.6,663.0 1314.7,659.2 1304.5,650.2 1290.4,657.2 1286.5,659.2 1279.1,680.2 1276.2,682.0 1262.0,681.9 1247.9,687.5 1247.9,680.2 1247.9,659.2 1247.9,648.1 1262.0,642.3 1265.1,638.3 1262.0,631.6 1247.9,627.8 1247.9,617.3 1247.9,607.1 1256.8,596.4 1260.3,575.5 1262.0,571.3 1266.4,554.5 1262.0,544.0 1258.3,533.5ZM1290.3,634.2 1287.3,638.3 1290.4,640.4 1292.9,638.3ZM1421.0,575.5 1431.8,571.0 1433.9,575.5 1433.1,596.4 1431.8,600.7 1430.4,596.4ZM1343.6,596.4 1347.0,593.8 1349.6,596.4 1355.1,617.3 1357.8,638.3 1347.0,647.8 1338.1,638.3 1338.8,617.3ZM1372.6,596.4 1375.2,595.1 1377.9,596.4 1375.2,601.3ZM1382.3,617.3 1389.4,608.3 1393.9,617.3 1403.5,635.7 1415.9,617.3 1417.7,615.3 1420.6,617.3 1427.0,638.3 1431.8,645.5 1446.0,650.4 1452.2,659.2 1460.2,671.0 1471.0,659.2 1474.3,653.7 1478.3,638.3 1488.5,620.0 1502.6,635.7 1506.5,638.3 1502.6,642.5 1497.5,659.2 1502.6,676.0 1513.9,659.2 1516.8,653.4 1530.9,640.9 1545.1,644.8 1556.5,659.2 1559.2,661.0 1560.6,659.2 1573.3,644.3 1584.4,638.3 1587.5,636.5 1590.3,638.3 1601.7,643.8 1615.8,658.1 1617.6,659.2 1630.0,677.6 1631.4,680.2 1644.1,692.0 1656.8,680.2 1658.2,678.1 1672.4,677.6 1673.8,680.2 1686.6,687.5 1686.6,693.9 1672.4,695.5 1658.2,698.5 1651.2,701.1 1644.1,702.8 1631.0,722.1 1630.0,728.3 1615.8,733.8 1608.9,722.1 1615.8,715.4 1626.8,701.1 1615.8,682.8 1601.7,683.9 1587.5,689.0 1576.4,701.1 1573.3,707.0 1570.2,701.1 1570.1,680.2 1559.2,674.6 1545.1,664.5 1530.9,663.4 1523.5,680.2 1530.9,697.0 1532.1,701.1 1545.1,720.4 1549.2,722.1 1549.0,743.0 1559.2,751.9 1573.3,756.8 1580.4,764.0 1587.5,768.1 1594.6,764.0 1601.7,757.2 1615.8,758.2 1622.9,764.0 1630.0,769.8 1635.5,784.9 1644.1,801.7 1647.3,805.9 1658.2,822.2 1661.5,826.9 1672.4,842.9 1683.3,826.9 1682.7,805.9 1686.6,795.4 1686.6,805.9 1686.6,826.9 1686.6,847.8 1686.6,868.8 1686.6,889.7 1686.6,900.2 1679.5,910.6 1672.4,913.9 1669.6,910.6 1658.2,893.9 1656.5,889.7 1658.2,879.2 1662.0,868.8 1658.2,858.3 1653.5,847.8 1645.9,826.9 1644.1,824.2 1630.0,822.8 1626.0,826.9 1615.8,842.0 1601.7,837.3 1598.6,826.9 1591.5,805.9 1587.5,801.6 1573.3,800.5 1559.2,789.5 1555.6,784.9 1545.1,774.5 1537.8,764.0 1530.9,748.7 1527.4,743.0 1530.9,732.6 1532.7,722.1 1530.9,719.5 1523.8,722.1 1516.8,727.3 1502.6,726.6 1488.5,725.8 1474.3,725.8 1471.3,722.1 1468.3,701.1 1460.2,690.7 1446.0,688.3 1435.4,701.1 1431.8,703.8 1430.4,701.1 1417.7,682.3 1403.5,686.9 1389.4,682.3 1386.5,680.2 1375.2,667.7 1368.7,659.2 1365.0,638.3 1375.2,629.1ZM1573.3,657.6 1571.9,659.2 1573.3,669.7 1587.5,669.7 1601.7,671.0 1606.2,659.2 1601.7,654.7 1587.5,653.6ZM1519.6,617.3 1530.9,607.7 1542.2,617.3 1530.9,634.1ZM1600.4,617.3 1601.7,615.8 1602.5,617.3 1601.7,621.5ZM1637.0,764.0 1644.1,759.8 1646.6,764.0 1644.1,768.2ZM1247.9,1204.0 1247.9,1201.9 1262.0,1201.9 1269.1,1204.0 1276.2,1210.5 1283.3,1204.0 1290.3,1199.8 1292.8,1204.0 1299.6,1224.9 1304.5,1230.7 1310.3,1245.8 1318.6,1262.4 1321.4,1266.8 1321.9,1287.8 1321.9,1308.7 1318.6,1319.2 1314.3,1329.6 1311.6,1350.6 1304.5,1354.7 1290.3,1354.8 1283.3,1350.6 1276.2,1346.0 1262.0,1344.9 1247.9,1344.6 1247.9,1329.6 1247.9,1308.7 1247.9,1287.8 1247.9,1266.8 1247.9,1250.7 1251.2,1245.8 1247.9,1239.2 1247.9,1224.9ZM1276.2,1262.6 1273.2,1266.8 1276.2,1272.0 1290.3,1271.8 1292.7,1266.8 1290.3,1262.9ZM1276.2,1303.5 1273.2,1308.7 1276.2,1312.5 1290.3,1312.4 1292.8,1308.7 1290.3,1303.7ZM1359.3,1308.7 1361.1,1305.1 1363.9,1308.7 1361.1,1312.5ZM1514.2,1308.7 1516.8,1304.5 1530.9,1299.7 1545.1,1304.5 1552.1,1308.7 1559.2,1314.5 1569.4,1329.6 1573.3,1340.1 1576.6,1350.6 1582.6,1371.5 1580.4,1392.5 1573.3,1397.7 1559.2,1402.7 1545.1,1406.2 1530.9,1396.6 1528.3,1392.5 1521.6,1371.5 1516.8,1361.1 1514.2,1350.6 1516.8,1340.1 1530.9,1336.9 1535.8,1329.6 1530.9,1323.8 1516.8,1319.2ZM1569.9,1434.4 1573.3,1429.2 1575.1,1434.4 1573.3,1438.4Z"/>
<path fill="#ff4000" stroke="#ff4000" stroke-width="0.6" stroke-linejoin="round" fill-rule="evenodd" d="M1247.9,512.6 1250.4,512.6 1258.3,533.5 1262.0,544.0 1266.4,554.5 1262.0,571.3 1260.3,575.5 1256.8,596.4 1247.9,607.1 1247.9,596.4 1247.9,575.5 1247.9,570.3 1254.0,554.5 1250.8,533.5 1247.9,524.5ZM1247.9,638.3 1247.9,627.8 1262.0,631.6 1265.1,638.3 1262.0,642.3 1247.9,648.1ZM1287.3,638.3 1290.3,634.2 1292.9,638.3 1290.3,640.4ZM1571.9,659.2 1573.3,657.6 1587.5,653.6 1601.7,654.7 1606.2,659.2 1601.7,671.0 1587.5,669.7 1573.3,669.7ZM1523.5,680.2 1530.9,663.4 1545.1,664.5 1559.2,674.6 1570.1,680.2 1570.2,701.1 1573.3,707.0 1576.4,701.1 1587.5,689.0 1601.7,683.9 1615.8,682.8 1626.8,701.1 1615.8,715.4 1608.9,722.1 1615.8,733.8 1630.0,728.3 1631.0,722.1 1644.1,702.8 1651.2,701.1 1658.2,698.5 1672.4,695.5 1686.6,693.9 1686.6,700.3 1684.3,701.1 1686.6,711.6 1686.6,722.1 1686.6,727.3 1672.4,731.6 1661.5,743.0 1672.4,759.1 1686.6,758.8 1686.6,764.0 1686.6,784.9 1686.6,795.4 1682.7,805.9 1683.3,826.9 1672.4,842.9 1661.5,826.9 1658.2,822.2 1647.3,805.9 1644.1,801.7 1635.5,784.9 1630.0,769.8 1622.9,764.0 1615.8,758.2 1601.7,757.2 1594.6,764.0 1587.5,768.1 1580.4,764.0 1573.3,756.8 1559.2,751.9 1549.0,743.0 1549.2,722.1 1545.1,720.4 1532.1,701.1 1530.9,697.0ZM1545.1,675.6 1538.7,680.2 1541.3,701.1 1545.1,706.8 1551.0,701.2 1550.9,680.2ZM1601.7,695.4 1594.9,701.1 1601.7,711.0 1613.0,701.1ZM1644.1,715.7 1639.7,722.1 1644.1,732.5 1651.6,722.1ZM1658.2,773.4 1651.2,784.9 1658.2,794.8 1665.8,784.9ZM1644.1,759.8 1637.0,764.0 1644.1,768.2 1646.6,764.0ZM1273.2,1266.8 1276.2,1262.6 1290.3,1262.9 1292.7,1266.8 1290.3,1271.8 1276.2,1272.0ZM1273.2,1308.7 1276.2,1303.5 1290.3,1303.7 1292.8,1308.7 1290.3,1312.4 1276.2,1312.5Z"/>
<path fill="#ff0000" stroke="#ff0000" stroke-width="0.6" stroke-linejoin="round" fill-rule="evenodd" d="M1247.9,533.5 1247.9,524.5 1250.8,533.5 1254.0,554.5 1247.9,570.3 1247.9,554.5ZM1538.7,680.2 1545.1,675.6 1550.9,680.2 1551.0,701.1 1545.1,706.8 1541.3,701.1ZM1594.9,701.1 1601.7,695.4 1613.0,701.1 1601.7,711.0ZM1684.3,701.1 1686.6,700.3 1686.6,701.1 1686.6,711.6ZM1639.7,722.1 1644.1,715.7 1651.6,722.1 1644.1,732.5ZM1661.5,743.0 1672.4,731.6 1686.6,727.3 1686.6,743.0 1686.6,758.8 1672.4,759.1ZM1651.2,784.9 1658.2,773.4 1665.8,784.9 1658.2,794.8Z"/>
<path fill="none" stroke="#000" stroke-width="1.7" stroke-linejoin="miter" stroke-miterlimit="3" d="M1674.3,449.8 1684.8,470.7 1686.6,473.6M1545.1,473.0 1546.8,473.3M1686.6,527.6 1679.5,533.5 1686.6,538.2M1630.0,458.1 1636.4,470.7 1644.1,489.6 1658.3,472.2 1659.8,470.7 1672.4,464.5 1675.9,470.7 1686.6,488.0M1545.1,477.5 1550.4,478.6M1630.0,511.7 1629.5,512.6 1630.0,513.2 1630.4,512.6ZM1686.6,515.6 1672.4,526.3 1667.3,533.5 1672.4,536.7 1686.6,547.5M1545.1,482.0 1553.9,483.8M1625.4,477.5 1630.0,485.7 1631.4,491.6 1630.0,493.5 1619.7,512.6 1630.0,525.4 1640.0,512.6 1644.1,505.9 1658.2,494.9 1669.3,491.6 1672.4,488.7 1674.1,491.6 1672.4,505.6 1672.0,512.6 1658.2,532.5 1656.5,533.5 1658.2,534.2 1672.4,542.9 1684.9,554.5 1686.6,556.2M1545.1,486.6 1557.4,489.0M1331.4,493.7 1332.8,493.8 1339.1,501.0M1567.8,491.6 1570.2,512.6 1573.3,517.0 1579.2,512.6 1578.4,499.1M1608.9,491.6 1611.6,512.6 1615.8,523.1 1624.9,533.5 1627.9,554.5 1630.0,569.5 1644.1,554.9 1644.4,554.5 1658.2,540.4 1672.4,549.2 1678.1,554.5 1686.6,563.2M1649.6,512.6 1658.2,504.2 1664.8,512.6 1658.2,522.0ZM1415.1,474.5 1417.7,474.3 1421.0,475.6M1545.1,491.1 1547.9,491.6 1559.2,503.1 1562.4,512.6 1573.3,527.8 1584.8,533.5 1587.5,534.6 1590.4,533.5 1594.5,512.6 1601.7,503.1 1604.6,512.6 1609.4,533.5 1615.8,542.9 1619.8,554.5 1624.6,575.5 1630.0,585.6 1635.6,575.5 1644.1,563.7 1650.6,554.5 1658.2,546.7 1670.9,554.5 1672.4,556.7 1686.6,570.2M1328.6,497.9 1332.8,498.0 1345.5,512.6 1347.0,516.9 1361.1,515.8 1367.2,512.6M1516.8,523.1 1516.1,533.5 1516.8,534.4 1517.9,533.5ZM1545.1,546.0 1540.8,554.5 1545.1,561.3 1554.8,554.5ZM1630.0,615.4 1629.6,617.3 1630.0,617.9 1630.6,617.3ZM1361.1,1032.4 1358.5,1036.3 1361.1,1040.1 1375.2,1045.2 1381.9,1036.3 1375.2,1026.7ZM1559.2,1032.1 1552.1,1036.3 1545.1,1046.8 1541.1,1057.3 1538.0,1078.2 1545.1,1082.6 1552.1,1078.2 1559.2,1071.0 1566.3,1078.2 1573.3,1082.1 1576.2,1078.2 1576.1,1057.3 1573.3,1046.8 1566.3,1036.3ZM1658.2,1062.2 1647.4,1078.2 1644.1,1085.5 1630.0,1084.1 1615.8,1094.5 1613.3,1099.2 1615.8,1103.0 1630.0,1114.3 1637.0,1120.2 1644.1,1124.1 1658.2,1135.3 1668.5,1120.2 1667.5,1099.2 1669.1,1078.2ZM1410.0,482.1 1417.7,481.5 1427.7,485.5M1325.8,502.0 1332.8,502.3 1341.8,512.6 1347.0,528.0 1361.1,524.2 1375.2,522.2 1382.3,512.6 1389.4,502.1 1393.4,491.6M1511.5,520.3 1510.7,533.5 1516.8,541.4 1527.1,533.5 1530.9,523.3 1538.1,512.6 1545.1,505.9 1550.9,512.6 1551.6,533.5 1545.1,536.6 1536.2,554.5 1545.1,568.8 1559.2,560.4 1562.6,554.5 1573.3,537.7 1587.5,543.2 1601.7,539.1 1612.1,554.5 1615.8,565.0 1618.7,575.5 1629.5,596.4 1626.3,617.3 1630.0,623.1 1636.9,617.3 1644.1,600.2 1658.2,596.4 1658.2,596.4 1658.2,596.4 1644.1,587.7 1641.9,575.5 1644.1,572.4 1656.7,554.5 1658.2,552.9 1660.8,554.5 1672.4,571.7 1679.5,575.5 1686.6,582.4M1332.8,907.1 1331.0,910.6 1325.8,931.6 1332.8,942.9 1339.0,931.6 1335.3,910.6ZM1630.0,990.8 1622.9,994.4 1629.9,1001.7 1644.1,1001.7 1646.7,994.4 1644.1,991.8ZM1686.6,1041.3 1679.5,1036.3 1672.4,1032.0 1658.2,1025.9 1651.2,1036.3 1644.1,1040.4 1630.0,1041.1 1622.9,1036.3 1615.8,1025.9 1612.5,1036.3 1601.7,1052.4 1590.8,1036.3 1587.5,1030.5 1577.3,1015.4 1577.6,994.4 1573.3,988.6 1566.3,973.5 1569.4,952.5 1559.2,937.4 1545.1,947.4 1540.4,952.5 1545.1,963.0 1549.0,973.5 1545.1,979.0 1530.9,979.1 1523.8,973.5 1516.8,966.5 1502.6,959.3 1495.5,952.5 1488.5,946.2 1474.3,938.6 1467.2,931.6 1460.2,925.0 1446.0,921.1 1441.1,910.6 1441.1,889.7 1442.7,868.8 1431.8,859.5 1421.0,868.8 1417.7,874.6 1411.8,889.7 1408.4,910.6 1410.7,931.6 1417.7,946.7 1421.8,952.5 1417.7,958.3 1410.6,973.5 1407.5,994.4 1403.5,999.6 1399.2,994.4 1393.3,973.5 1389.4,968.4 1375.2,969.4 1371.9,973.5 1365.6,994.4 1361.1,998.9 1347.0,1000.0 1339.9,994.4 1332.8,988.3 1325.7,994.4 1318.6,1001.7 1304.5,1004.9 1300.6,1015.4 1304.5,1020.3 1315.4,1036.3 1318.6,1046.8 1323.1,1057.3 1318.6,1067.8 1311.6,1057.3 1304.5,1052.4 1299.7,1057.3 1300.6,1078.2 1304.5,1088.7 1318.6,1088.7 1322.6,1099.2 1330.0,1120.2 1332.8,1124.3 1334.6,1120.2 1338.5,1099.2 1347.0,1082.6 1349.8,1078.2 1361.1,1067.0 1372.4,1078.2 1375.2,1082.2 1382.3,1078.2 1389.4,1073.1 1396.5,1078.2 1403.5,1082.7 1417.7,1092.0 1431.8,1092.0 1446.0,1083.3 1449.9,1078.2 1449.9,1057.3 1446.0,1046.8 1442.1,1036.3 1446.0,1030.7 1460.2,1030.6 1467.2,1036.3 1468.3,1057.3 1470.4,1078.2 1474.3,1088.7 1488.5,1092.0 1495.5,1099.2 1502.6,1101.8 1516.8,1113.0 1523.8,1120.2 1530.9,1124.1 1545.1,1133.9 1552.1,1141.1 1559.2,1143.7 1573.3,1144.8 1575.1,1141.1 1577.2,1120.2 1587.5,1104.9 1601.7,1115.4 1604.8,1120.2 1615.8,1129.5 1630.0,1138.5 1633.0,1141.1 1644.1,1157.5 1658.2,1159.4 1672.4,1145.5 1679.5,1141.1 1686.6,1136.6M1247.9,1092.5 1255.0,1099.2 1262.0,1102.9 1276.2,1103.0 1279.3,1099.2 1280.1,1078.2 1276.2,1071.0 1262.0,1064.5 1258.0,1057.3 1262.0,1046.8 1266.0,1036.3 1276.2,1021.2 1280.1,1015.4 1281.0,994.5 1276.2,988.0 1269.1,994.4 1262.0,1001.7 1257.7,994.4 1255.0,973.5 1252.6,952.5 1252.1,931.6 1251.6,910.6 1250.8,889.7 1249.3,868.8 1247.9,865.0M1404.9,489.6 1417.7,488.7 1425.0,491.6 1417.7,507.7 1414.2,512.6 1417.7,514.3 1431.8,516.4 1434.5,512.6 1438.0,491.6M1323.0,506.2 1332.8,506.6 1338.1,512.6 1345.1,533.5 1347.0,550.3 1358.3,533.5 1361.1,532.5 1364.4,533.5 1373.5,554.5 1375.2,555.7 1375.9,554.5 1378.3,533.5 1389.4,517.8 1397.5,512.6 1401.4,491.6M1454.0,503.5 1457.1,512.6 1460.2,519.0 1472.5,533.5 1474.3,534.7 1475.2,533.5 1479.2,512.6M1505.6,529.1 1505.3,533.5 1516.8,548.4 1530.9,550.8 1531.5,554.5 1543.3,575.5 1545.1,576.3 1547.8,575.5 1559.2,570.3 1568.3,554.5 1573.3,546.7 1587.5,551.7 1601.7,550.0 1604.7,554.5 1612.8,575.5 1615.8,585.9 1620.4,596.4 1622.9,617.3 1630.0,628.4 1643.3,617.3 1644.1,615.4 1658.2,603.1 1672.4,600.4 1686.6,600.4M1657.2,575.5 1658.2,574.1 1659.1,575.5 1658.2,576.4ZM1300.0,889.7 1304.5,882.5 1318.6,873.6 1325.9,889.7 1318.6,905.8 1304.5,895.2ZM1686.6,999.0 1672.4,998.5 1669.2,994.4 1658.2,978.2 1651.2,973.5 1644.1,970.9 1630.0,957.6 1622.9,952.5 1615.8,949.9 1601.7,947.8 1592.6,931.6 1589.3,910.6 1587.5,908.0 1573.3,908.6 1559.2,903.9 1547.9,889.7 1545.1,886.0 1530.9,885.9 1516.8,885.6 1502.6,882.5 1488.5,874.9 1481.4,868.8 1474.3,864.4 1463.1,847.8 1460.2,843.8 1446.0,832.5 1438.9,826.9 1431.8,824.2 1417.7,819.0 1407.5,826.9 1403.5,833.4 1389.4,843.3 1385.5,847.8 1385.5,868.8 1389.4,879.2 1392.1,889.7 1391.2,910.6 1389.4,921.1 1385.5,910.6 1382.3,889.7 1375.2,883.9 1371.3,889.7 1368.2,910.6 1368.7,931.6 1364.0,952.5 1361.1,956.2 1358.3,952.5 1355.3,931.6 1355.0,910.6 1353.5,889.7 1357.2,868.8 1347.0,853.6 1343.0,847.8 1336.2,826.8 1335.3,805.9 1332.8,802.6 1331.6,805.9 1331.4,826.9 1327.2,847.8 1318.6,864.6 1307.3,847.8 1304.5,843.9 1301.5,847.8 1290.3,864.3 1286.4,868.8 1276.2,879.0 1262.0,872.9 1260.6,868.8 1257.0,847.8 1251.0,826.9 1247.9,823.1M1247.9,1128.4 1262.0,1136.3 1276.2,1136.4 1287.2,1120.2 1290.3,1116.3 1294.0,1120.2 1304.5,1135.7 1318.6,1136.9 1321.5,1141.1 1332.8,1157.9 1344.1,1141.1 1347.0,1130.6 1350.7,1120.2 1358.4,1099.2 1361.1,1095.0 1364.1,1099.2 1375.2,1115.6 1389.4,1109.5 1400.4,1120.2 1403.5,1121.9 1417.7,1126.4 1431.8,1135.2 1438.9,1141.1 1446.0,1151.6 1449.3,1141.1 1460.2,1125.1 1467.2,1120.2 1474.3,1117.5 1488.5,1117.5 1495.5,1120.2 1502.6,1122.8 1516.8,1138.5 1519.7,1141.1 1530.9,1157.6 1545.1,1159.4 1552.1,1162.0 1559.2,1166.5 1573.3,1178.2 1584.2,1162.0 1587.5,1151.6 1590.3,1141.1 1601.7,1133.5 1608.9,1141.1 1615.8,1148.4 1628.2,1162.0 1630.0,1164.1 1644.1,1180.4 1658.2,1180.4 1672.4,1179.0 1686.6,1178.5M1489.2,1475.1 1488.5,1474.2 1481.4,1476.3 1488.5,1477.5 1489.2,1477.5M1278.0,1494.6 1276.2,1494.6 1273.4,1497.2M1307.3,1501.4 1305.9,1497.2 1304.5,1494.6 1302.7,1494.6M1403.5,1512.1 1389.4,1509.9 1375.3,1516.1 1372.4,1518.2M1271.2,499.0 1276.2,500.8 1288.6,491.6M1320.2,510.4 1332.8,510.8 1334.3,512.6 1341.4,533.5 1343.1,554.5 1347.0,560.6 1361.1,556.6 1375.2,565.0 1381.3,554.5 1385.7,533.5 1389.4,528.3 1397.2,533.5 1403.5,543.0 1410.3,533.5 1417.7,527.6 1431.8,528.2 1442.6,512.6 1446.0,503.1 1449.3,512.6 1456.9,533.5 1460.2,535.5 1474.3,544.0 1482.3,533.5 1488.5,520.2 1497.5,533.5 1502.6,545.0 1513.5,554.5 1506.5,575.5 1516.8,581.1 1530.9,576.5 1545.1,582.7 1559.2,580.7 1573.3,577.5 1576.5,575.5 1587.5,567.3 1601.7,562.9 1606.9,575.5 1612.1,596.4 1615.8,602.8 1619.6,617.3 1630.0,633.7 1644.1,623.5 1650.3,617.3 1658.2,609.8 1672.4,608.4 1686.6,608.4M1672.4,631.9 1668.5,638.3 1672.4,642.3 1677.5,638.3ZM1686.6,971.9 1684.8,973.5 1672.4,984.0 1665.3,973.5 1658.2,960.2 1646.9,952.5 1644.1,949.9 1631.7,931.6 1630.0,929.0 1615.8,927.4 1604.5,910.6 1601.7,908.0 1589.3,889.7 1587.5,887.1 1580.4,889.7 1573.3,891.8 1570.5,889.7 1559.2,879.2 1551.4,868.8 1545.1,859.9 1530.9,852.5 1516.8,852.1 1502.6,851.7 1498.9,847.8 1488.5,838.9 1474.3,830.9 1471.3,826.9 1463.0,805.9 1460.2,802.2 1453.1,805.9 1446.0,808.5 1438.9,805.9 1431.8,800.7 1421.2,784.9 1419.5,764.0 1417.7,760.3 1414.9,764.0 1403.5,780.8 1399.8,784.9 1392.8,805.9 1389.4,809.9 1382.3,805.9 1375.2,801.6 1372.0,805.9 1361.1,816.0 1354.0,805.9 1350.0,784.9 1347.0,780.7 1339.3,764.0 1332.8,755.3 1325.7,764.0 1324.6,784.9 1321.8,805.9 1320.1,826.9 1318.6,831.0 1315.6,826.8 1308.4,805.9 1304.5,801.0 1300.6,805.9 1293.4,826.8 1290.3,830.8 1286.8,826.9 1280.1,805.9 1276.2,801.9 1262.0,801.5 1250.9,785.0 1247.9,780.8M1247.9,1148.4 1262.0,1154.3 1273.4,1162.0 1276.2,1163.6 1277.3,1162.0 1285.2,1141.1 1290.3,1133.5 1295.5,1141.1 1304.5,1159.4 1311.6,1162.0 1318.6,1164.7 1332.8,1180.4 1345.2,1162.0 1347.0,1159.4 1359.3,1141.1 1361.1,1137.7 1364.4,1141.1 1375.2,1149.9 1386.1,1141.1 1389.4,1137.3 1403.5,1135.5 1410.4,1141.1 1417.7,1148.2 1430.1,1162.0 1431.8,1164.1 1446.0,1175.1 1460.2,1166.0 1474.3,1164.7 1488.5,1164.7 1491.3,1162.0 1502.6,1145.3 1513.9,1162.0 1516.8,1164.7 1529.1,1183.0 1529.8,1204.0 1530.9,1206.0 1545.1,1206.6 1552.1,1204.0 1559.2,1200.0 1566.3,1204.0 1573.3,1214.4 1580.4,1224.9 1587.5,1228.9 1594.6,1224.9 1596.8,1204.0 1598.5,1183.0 1599.9,1162.0 1601.7,1157.9 1608.7,1162.0 1615.8,1167.9 1630.0,1180.9 1631.7,1183.0 1644.1,1201.3 1658.2,1201.3 1672.4,1201.3 1686.6,1201.3M1615.8,1198.1 1608.7,1204.0 1608.7,1224.9 1615.8,1229.6 1619.6,1224.9 1620.7,1204.0ZM1658.2,1214.4 1654.8,1224.9 1658.2,1235.4 1665.3,1245.8 1669.7,1266.8 1672.4,1269.4 1675.2,1266.8 1676.1,1245.8 1676.9,1224.9 1672.4,1214.4ZM1389.4,1430.7 1387.6,1434.4 1386.4,1455.3 1389.4,1459.6 1403.5,1456.5 1406.1,1455.3 1413.8,1434.4 1403.5,1419.3ZM1495.5,1465.8 1488.5,1457.4 1485.2,1455.3 1474.3,1446.5 1467.0,1455.3 1465.1,1476.3 1474.3,1489.6 1488.5,1486.8 1495.4,1486.7M1317.2,1497.2 1318.6,1486.8 1325.7,1497.2 1318.6,1501.4ZM1339.9,1497.2 1347.0,1486.8 1350.2,1476.3 1349.8,1455.3 1347.0,1451.2 1343.9,1455.3 1339.9,1476.3 1332.8,1486.8 1325.7,1476.3 1318.6,1472.0 1304.5,1472.4 1290.4,1474.2 1276.2,1472.1 1264.9,1455.3 1262.0,1444.9 1260.3,1434.4 1247.9,1416.1M1432.6,1477.5 1446.0,1477.5 1449.0,1476.3 1446.0,1472.2 1431.8,1472.6 1431.1,1476.3M1674.2,1497.2 1672.4,1494.6 1670.6,1497.2M1403.5,1505.1 1389.4,1500.3 1375.2,1499.3 1361.1,1511.8 1349.8,1501.4M1265.6,507.4 1276.2,511.3 1290.3,510.0 1301.2,507.7M1309.7,512.6 1318.6,518.7 1332.8,519.0 1337.7,533.5 1338.7,554.5 1347.0,567.6 1361.1,573.4 1375.2,574.3 1386.7,554.5 1389.4,544.0 1396.5,554.5 1403.5,564.2 1407.9,554.5 1417.7,540.4 1431.8,544.7 1446.0,546.9 1460.2,550.8 1474.3,553.3 1488.5,538.4 1494.3,554.5 1496.4,575.5 1497.0,596.4 1502.6,601.1 1516.8,597.7 1517.9,596.4 1530.9,584.7 1545.1,589.1 1559.2,591.8 1573.3,594.3 1587.5,590.2 1601.7,580.3 1604.7,596.4 1615.8,615.7 1616.2,617.3 1615.8,627.8 1614.7,638.3 1615.8,639.5 1630.0,640.4 1631.4,638.3 1644.1,630.4 1657.4,617.3 1658.2,616.5 1672.4,616.4 1686.6,616.4M1304.5,543.9 1300.1,554.5 1304.5,558.5 1311.6,554.5ZM1446.0,562.8 1443.6,575.5 1446.0,584.4 1453.0,575.5ZM1559.2,612.5 1558.3,617.3 1559.2,618.9 1561.5,617.3ZM1686.6,627.8 1672.4,619.0 1660.8,638.3 1672.4,650.3 1686.6,640.4M1686.6,959.0 1672.4,971.4 1662.6,952.5 1658.2,942.1 1646.9,931.6 1644.1,929.0 1631.7,910.6 1630.0,906.7 1615.8,899.5 1604.8,889.7 1601.7,887.6 1588.9,868.8 1587.5,866.1 1584.7,868.8 1573.3,876.4 1566.3,868.8 1559.2,852.0 1556.1,847.8 1545.1,840.8 1530.9,833.7 1516.8,832.5 1502.6,829.5 1499.8,826.9 1488.4,810.0 1485.6,805.9 1480.2,785.0 1474.3,776.8 1460.2,768.7 1453.1,764.0 1446.0,761.9 1431.8,761.9 1421.5,743.0 1419.1,722.1 1417.7,719.5 1415.0,722.1 1410.6,743.0 1403.5,752.5 1396.5,743.0 1389.4,734.3 1382.4,743.0 1382.2,764.0 1375.2,772.1 1361.1,771.8 1355.6,764.0 1354.3,743.0 1347.0,732.8 1332.8,726.9 1325.7,722.1 1318.6,718.2 1315.8,722.1 1304.5,734.8 1298.6,743.0 1297.2,764.0 1290.3,772.6 1276.2,771.0 1262.0,772.0 1256.5,764.0 1247.9,752.6M1247.9,1164.7 1262.0,1169.5 1276.2,1176.0 1286.0,1162.0 1290.3,1151.6 1295.5,1162.0 1304.5,1180.4 1311.6,1183.0 1318.6,1187.2 1330.0,1204.0 1332.8,1207.3 1335.7,1204.0 1345.2,1183.0 1347.0,1180.4 1361.1,1164.7 1375.2,1172.1 1386.2,1162.0 1389.4,1159.4 1403.5,1153.4 1414.4,1162.0 1417.7,1164.7 1431.8,1180.9 1434.8,1183.0 1446.0,1199.5 1460.2,1195.7 1474.3,1188.2 1488.5,1185.6 1491.3,1183.0 1502.6,1172.5 1513.9,1183.0 1516.8,1187.2 1521.1,1204.0 1530.9,1222.8 1538.0,1224.9 1545.1,1229.1 1559.2,1235.4 1573.3,1243.2 1576.3,1245.8 1587.5,1262.4 1591.5,1266.8 1596.0,1287.8 1601.7,1302.9 1605.6,1308.7 1615.8,1316.7 1630.0,1316.5 1633.1,1308.7 1639.2,1287.8 1644.1,1282.6 1658.2,1283.3 1665.3,1287.8 1672.4,1291.8 1686.6,1290.4M1641.2,1245.8 1644.1,1242.3 1645.9,1245.8 1644.1,1251.0ZM1672.4,1423.9 1668.7,1434.4 1672.4,1439.2 1675.7,1434.4ZM1686.6,1450.5 1683.3,1455.3 1686.6,1459.5M1501.8,1456.5 1500.8,1455.3 1502.6,1444.9 1505.0,1434.4 1502.6,1423.9 1488.5,1419.1 1481.4,1413.5 1474.3,1409.6 1467.2,1413.5 1460.2,1419.3 1446.0,1431.8 1431.8,1423.9 1427.7,1413.5 1419.1,1392.5 1417.7,1389.9 1410.6,1392.5 1403.5,1395.1 1396.5,1392.5 1389.4,1388.1 1386.0,1392.5 1381.4,1413.5 1375.2,1428.6 1368.2,1434.4 1361.1,1438.5 1358.3,1434.4 1347.0,1417.6 1335.6,1434.4 1332.8,1438.3 1325.7,1434.4 1318.6,1430.2 1304.5,1430.6 1302.7,1434.4 1293.4,1455.3 1290.3,1457.4 1287.5,1455.3 1276.2,1438.6 1274.4,1434.4 1265.0,1413.5 1262.0,1411.4 1247.9,1395.1M1359.3,1497.2 1361.1,1493.5 1362.9,1497.2 1361.1,1498.9ZM1438.9,1486.8 1446.0,1486.8 1460.2,1487.1 1467.2,1497.2M1485.6,1497.2 1488.5,1496.1 1501.7,1495.9M1633.4,1497.2 1634.5,1476.3 1634.0,1455.3 1629.9,1450.7 1615.8,1451.5 1613.4,1455.3 1615.8,1459.6 1627.1,1476.3 1628.2,1497.2M1686.6,1493.1 1675.2,1476.3 1672.4,1471.5 1668.5,1476.3 1658.2,1491.4 1654.8,1497.2M1403.5,1498.1 1401.3,1497.2 1393.8,1476.3 1403.5,1465.8 1417.7,1460.3 1425.5,1476.3M1260.2,512.6 1262.0,516.9 1276.2,526.2 1284.0,533.5 1290.3,549.3 1291.4,554.5 1304.5,566.5 1318.6,565.2 1327.2,554.5 1318.6,537.7 1315.9,533.5 1318.6,531.9 1332.8,530.0 1334.0,533.5 1334.2,554.5 1347.0,574.6 1348.7,575.5 1361.1,589.1 1375.2,584.6 1384.9,575.5 1389.4,566.0 1396.4,575.5 1397.7,596.4 1403.5,611.5 1417.7,598.5 1419.1,596.4 1417.7,593.8 1408.2,575.5 1416.6,554.5 1417.7,552.9 1420.4,554.5 1431.8,560.1 1438.7,575.5 1442.8,596.4 1439.7,617.3 1446.0,626.3 1456.9,617.3 1460.2,611.6 1467.3,596.4 1468.7,575.5 1474.3,569.8 1488.5,571.8 1489.3,575.5 1488.4,579.6 1479.9,596.4 1488.5,604.0 1502.6,615.5 1516.8,608.2 1527.1,596.4 1530.9,593.0 1545.1,595.6 1547.5,596.4 1551.2,617.3 1559.2,631.0 1573.3,625.5 1587.5,622.0 1590.7,617.3 1601.7,603.6 1609.6,617.3 1606.0,638.3 1615.8,648.8 1630.0,657.2 1642.7,638.3 1644.1,637.4 1646.3,638.3 1654.3,659.2 1658.2,661.3 1665.3,659.2 1672.4,658.3 1686.6,657.2M1644.1,674.4 1642.7,680.2 1644.1,681.5 1645.5,680.2ZM1686.6,669.7 1685.1,680.2 1686.6,681.0M1686.6,935.8 1675.2,952.5 1672.4,954.6 1671.3,952.5 1666.8,931.6 1658.2,921.1 1646.9,910.6 1644.1,900.2 1641.1,889.7 1630.0,873.2 1615.8,872.6 1601.7,870.8 1600.2,868.8 1589.3,847.8 1587.5,843.9 1580.4,847.8 1573.3,852.0 1571.6,847.8 1559.2,829.5 1552.1,826.9 1545.1,821.3 1530.9,812.0 1516.8,809.2 1514.0,805.9 1502.6,789.0 1499.9,784.9 1495.9,764.0 1495.5,743.0 1488.5,741.1 1485.2,743.0 1474.3,752.8 1460.2,745.7 1446.0,745.1 1431.8,745.1 1430.7,743.0 1430.4,722.1 1419.1,701.1 1417.7,699.1 1414.9,701.1 1403.5,711.9 1392.2,701.1 1389.4,699.1 1382.3,701.1 1382.2,722.1 1375.2,730.8 1368.5,722.1 1371.3,701.1 1361.1,686.0 1357.2,680.2 1347.0,672.0 1332.8,672.1 1326.7,680.2 1318.6,690.4 1307.6,701.1 1304.5,705.3 1301.2,701.1 1290.3,691.8 1276.2,696.5 1262.0,695.5 1255.7,701.1 1262.0,717.2 1276.2,711.6 1290.3,711.6 1296.7,722.1 1290.3,731.2 1276.2,731.0 1262.0,726.4 1255.0,722.1 1247.9,717.9M1396.5,1183.0 1403.5,1179.3 1410.6,1183.0 1417.7,1190.2 1431.8,1201.3 1433.6,1204.0 1446.0,1222.3 1449.4,1224.9 1450.9,1245.8 1455.3,1266.8 1460.2,1277.3 1465.0,1287.8 1467.2,1308.7 1465.0,1329.6 1465.0,1350.6 1464.8,1371.5 1460.2,1382.0 1456.2,1392.5 1446.0,1407.6 1431.8,1395.1 1430.4,1392.5 1422.6,1371.5 1427.0,1350.6 1424.8,1329.6 1417.7,1319.2 1410.6,1308.7 1403.5,1298.2 1398.7,1287.8 1398.7,1266.8 1398.7,1245.8 1394.3,1224.9 1389.4,1220.0 1382.3,1204.0 1389.4,1187.9ZM1247.9,1185.1 1262.0,1185.1 1276.2,1190.0 1282.8,1183.0 1290.3,1172.5 1295.5,1183.0 1304.5,1197.2 1310.9,1204.0 1318.6,1216.4 1325.6,1224.9 1330.1,1245.8 1332.8,1250.1 1344.1,1266.8 1347.0,1271.7 1350.9,1266.8 1350.9,1245.8 1351.8,1224.9 1358.3,1204.0 1361.1,1193.5 1364.4,1204.0 1375.2,1220.0 1382.3,1224.9 1375.2,1235.4 1371.3,1245.8 1369.3,1266.8 1371.9,1287.8 1375.2,1291.9 1384.8,1308.7 1375.2,1325.5 1372.1,1329.6 1371.3,1350.6 1361.1,1365.7 1347.0,1361.1 1342.5,1371.5 1336.5,1392.5 1332.8,1396.2 1318.6,1396.7 1311.6,1392.5 1304.5,1388.3 1297.4,1392.5 1293.5,1413.5 1290.3,1423.9 1287.6,1413.5 1283.3,1392.5 1276.2,1387.9 1269.1,1392.5 1262.0,1394.6 1260.3,1392.5 1262.0,1382.0 1265.2,1371.6 1262.0,1368.9 1247.9,1368.9M1417.7,1259.8 1410.6,1266.8 1417.7,1274.0 1422.2,1266.8ZM1642.9,1308.7 1644.1,1306.1 1658.2,1306.1 1661.2,1308.7 1658.2,1319.2 1651.2,1329.6 1648.5,1350.6 1644.1,1356.3 1637.0,1350.6 1641.0,1329.6ZM1347.0,1319.2 1344.2,1329.6 1347.0,1340.1 1350.1,1329.6ZM1686.6,1340.1 1672.4,1336.0 1665.3,1329.6 1672.4,1325.3 1686.6,1319.2M1521.3,1455.3 1527.5,1434.4 1519.7,1413.5 1516.8,1408.9 1502.6,1395.1 1495.5,1392.5 1497.7,1371.5 1491.6,1350.6 1491.6,1329.7 1491.6,1308.7 1497.7,1287.8 1497.7,1266.8 1493.3,1245.8 1493.3,1224.9 1495.5,1204.0 1502.6,1199.8 1505.4,1204.0 1516.8,1220.7 1518.5,1224.9 1530.9,1243.2 1533.8,1245.8 1540.7,1266.8 1545.1,1271.0 1552.1,1266.8 1559.2,1264.2 1562.0,1266.8 1573.3,1283.6 1576.1,1287.8 1584.2,1308.7 1587.5,1314.1 1601.7,1327.0 1604.6,1329.7 1615.8,1346.2 1622.9,1350.6 1615.8,1361.1 1612.4,1371.5 1615.8,1382.0 1619.9,1392.5 1615.8,1403.0 1611.9,1413.5 1601.7,1424.0 1591.4,1434.4 1587.5,1444.9 1584.5,1455.3 1587.5,1462.2 1601.7,1471.1 1604.4,1476.3 1611.3,1497.2M1413.4,1482.7 1403.5,1478.9 1402.5,1476.3 1403.5,1475.1 1417.7,1471.9 1419.9,1476.3M1445.2,1496.1 1446.0,1496.1 1448.8,1497.2M1255.3,512.6 1262.0,528.0 1268.9,533.5 1275.1,554.5 1276.2,559.3 1290.3,571.0 1304.5,574.5 1307.2,575.5 1318.6,587.2 1325.8,596.4 1318.6,608.1 1311.4,617.3 1315.4,638.3 1318.6,648.8 1321.5,659.2 1318.6,663.0 1314.7,659.2 1304.5,650.2 1290.4,657.2 1286.5,659.2 1279.1,680.2 1276.2,682.0 1262.0,681.9 1247.9,687.5M1421.0,575.5 1431.8,571.0 1433.9,575.5 1433.1,596.4 1431.8,600.7 1430.4,596.4ZM1343.6,596.4 1347.0,593.8 1349.6,596.4 1355.1,617.3 1357.8,638.3 1347.0,647.8 1338.1,638.3 1338.8,617.3ZM1372.6,596.4 1375.2,595.1 1377.9,596.4 1375.2,601.3ZM1519.6,617.3 1530.9,607.7 1542.2,617.3 1530.9,634.1ZM1600.4,617.3 1601.7,615.8 1602.5,617.3 1601.7,621.5ZM1686.6,900.2 1679.5,910.6 1672.4,913.9 1669.6,910.6 1658.2,893.9 1656.5,889.7 1658.2,879.2 1662.0,868.8 1658.2,858.3 1653.5,847.8 1645.9,826.9 1644.1,824.2 1630.0,822.8 1626.0,826.9 1615.8,842.0 1601.7,837.3 1598.6,826.9 1591.5,805.9 1587.5,801.6 1573.3,800.5 1559.2,789.5 1555.6,784.9 1545.1,774.5 1537.8,764.0 1530.9,748.7 1527.4,743.0 1530.9,732.6 1532.7,722.1 1530.9,719.5 1523.8,722.1 1516.8,727.3 1502.6,726.6 1488.5,725.8 1474.3,725.8 1471.3,722.1 1468.3,701.1 1460.2,690.7 1446.0,688.3 1435.4,701.1 1431.8,703.8 1430.4,701.1 1417.7,682.3 1403.5,686.9 1389.4,682.3 1386.5,680.2 1375.2,667.7 1368.7,659.2 1365.0,638.3 1375.2,629.1 1382.3,617.3 1389.4,608.3 1393.9,617.3 1403.5,635.7 1415.9,617.3 1417.7,615.3 1420.6,617.3 1427.0,638.3 1431.8,645.5 1446.0,650.4 1452.2,659.2 1460.2,671.0 1471.0,659.2 1474.3,653.7 1478.3,638.3 1488.5,620.0 1502.6,635.7 1506.5,638.3 1502.6,642.5 1497.5,659.2 1502.6,676.0 1513.9,659.2 1516.8,653.4 1530.9,640.9 1545.1,644.8 1556.5,659.2 1559.2,661.0 1560.6,659.2 1573.3,644.3 1584.4,638.3 1587.5,636.5 1590.3,638.3 1601.7,643.8 1615.8,658.1 1617.6,659.2 1630.0,677.6 1631.4,680.2 1644.1,692.0 1656.8,680.2 1658.2,678.1 1672.4,677.6 1673.8,680.2 1686.6,687.5M1247.9,1201.9 1262.0,1201.9 1269.1,1204.0 1276.2,1210.5 1283.3,1204.0 1290.3,1199.8 1292.8,1204.0 1299.6,1224.9 1304.5,1230.7 1310.3,1245.8 1318.6,1262.4 1321.4,1266.8 1321.9,1287.8 1321.9,1308.7 1318.6,1319.2 1314.3,1329.6 1311.6,1350.6 1304.5,1354.7 1290.3,1354.8 1283.3,1350.6 1276.2,1346.0 1262.0,1344.9 1247.9,1344.6M1247.9,1250.7 1251.2,1245.8 1247.9,1239.2M1359.3,1308.7 1361.1,1305.1 1363.9,1308.7 1361.1,1312.5ZM1514.2,1308.7 1516.8,1304.5 1530.9,1299.7 1545.1,1304.5 1552.1,1308.7 1559.2,1314.5 1569.4,1329.6 1573.3,1340.1 1576.6,1350.6 1582.6,1371.5 1580.4,1392.5 1573.3,1397.7 1559.2,1402.7 1545.1,1406.2 1530.9,1396.6 1528.3,1392.5 1521.6,1371.5 1516.8,1361.1 1514.2,1350.6 1516.8,1340.1 1530.9,1336.9 1535.8,1329.6 1530.9,1323.8 1516.8,1319.2ZM1569.9,1434.4 1573.3,1429.2 1575.1,1434.4 1573.3,1438.4ZM1250.4,512.6 1258.3,533.5 1262.0,544.0 1266.4,554.5 1262.0,571.3 1260.3,575.5 1256.8,596.4 1247.9,607.1M1247.9,627.8 1262.0,631.6 1265.1,638.3 1262.0,642.3 1247.9,648.1M1287.3,638.3 1290.3,634.2 1292.9,638.3 1290.3,640.4ZM1571.9,659.2 1573.3,657.6 1587.5,653.6 1601.7,654.7 1606.2,659.2 1601.7,671.0 1587.5,669.7 1573.3,669.7ZM1644.1,759.8 1637.0,764.0 1644.1,768.2 1646.6,764.0ZM1686.6,795.4 1682.7,805.9 1683.3,826.9 1672.4,842.9 1661.5,826.9 1658.2,822.2 1647.3,805.9 1644.1,801.7 1635.5,784.9 1630.0,769.8 1622.9,764.0 1615.8,758.2 1601.7,757.2 1594.6,764.0 1587.5,768.1 1580.4,764.0 1573.3,756.8 1559.2,751.9 1549.0,743.0 1549.2,722.1 1545.1,720.4 1532.1,701.1 1530.9,697.0 1523.5,680.2 1530.9,663.4 1545.1,664.5 1559.2,674.6 1570.1,680.2 1570.2,701.1 1573.3,707.0 1576.4,701.1 1587.5,689.0 1601.7,683.9 1615.8,682.8 1626.8,701.1 1615.8,715.4 1608.9,722.1 1615.8,733.8 1630.0,728.3 1631.0,722.1 1644.1,702.8 1651.2,701.1 1658.2,698.5 1672.4,695.5 1686.6,693.9M1273.2,1266.8 1276.2,1262.6 1290.3,1262.9 1292.7,1266.8 1290.3,1271.8 1276.2,1272.0ZM1273.2,1308.7 1276.2,1303.5 1290.3,1303.7 1292.8,1308.7 1290.3,1312.4 1276.2,1312.5ZM1247.9,524.5 1250.8,533.5 1254.0,554.5 1247.9,570.3M1538.7,680.2 1545.1,675.6 1550.9,680.2 1551.0,701.1 1545.1,706.8 1541.3,701.1ZM1594.9,701.1 1601.7,695.4 1613.0,701.1 1601.7,711.0ZM1639.7,722.1 1644.1,715.7 1651.6,722.1 1644.1,732.5ZM1686.6,711.6 1684.3,701.1 1686.6,700.3M1686.6,758.8 1672.4,759.1 1661.5,743.0 1672.4,731.6 1686.6,727.3M1651.2,784.9 1658.2,773.4 1665.8,784.9 1658.2,794.8Z"/></g>
<g fill="none" stroke="#262626" stroke-width="2">
<rect x="285.5" y="135.5" width="1698.0" height="1468.0"/>
<path d="M427.2,1603.5v-17.5M427.2,135.5v17.5M710.2,1603.5v-17.5M710.2,135.5v17.5M993.2,1603.5v-17.5M993.2,135.5v17.5M1276.2,1603.5v-17.5M1276.2,135.5v17.5M1559.2,1603.5v-17.5M1559.2,135.5v17.5M1842.2,1603.5v-17.5M1842.2,135.5v17.5M285.5,1392.5h17.5M1983.5,1392.5h-17.5M285.5,1183.0h17.5M1983.5,1183.0h-17.5M285.5,973.5h17.5M1983.5,973.5h-17.5M285.5,764.0h17.5M1983.5,764.0h-17.5M285.5,554.5h17.5M1983.5,554.5h-17.5M285.5,345.0h17.5M1983.5,345.0h-17.5"/>
</g>
<g fill="#262626" font-size="67">
<text x="425.7" y="1677.0" text-anchor="middle">0</text>
<text x="708.7" y="1677.0" text-anchor="middle">2</text>
<text x="991.7" y="1677.0" text-anchor="middle">4</text>
<text x="1274.7" y="1677.0" text-anchor="middle">6</text>
<text x="1557.7" y="1677.0" text-anchor="middle">8</text>
<text x="1840.7" y="1677.0" text-anchor="middle">10</text>
<text x="263.5" y="1620.0" text-anchor="end">80</text>
<text x="263.5" y="1410.5" text-anchor="end">85</text>
<text x="263.5" y="1201.0" text-anchor="end">90</text>
<text x="263.5" y="991.5" text-anchor="end">95</text>
<text x="263.5" y="782.0" text-anchor="end">100</text>
<text x="263.5" y="572.5" text-anchor="end">105</text>
<text x="263.5" y="363.0" text-anchor="end">110</text>
<text x="263.5" y="153.5" text-anchor="end">115</text>
</g>
<text x="1128.4" y="109.6" text-anchor="middle" font-size="82.6" font-weight="bold" fill="#000">Meridional Wind 20161101</text>
<text x="1134.0" y="1755.0" text-anchor="middle" font-size="75.5" fill="#262626">UT (Hour)</text>
<text transform="translate(120.6,870.5) rotate(-90)" text-anchor="middle" font-size="75" fill="#262626">Altitude (km)</text>
<rect x="2023.6" y="1499.29" width="85.9" height="105.51" fill="#0000bf"/>
<rect x="2023.6" y="1394.27" width="85.9" height="105.51" fill="#0000ff"/>
<rect x="2023.6" y="1289.26" width="85.9" height="105.51" fill="#0040ff"/>
<rect x="2023.6" y="1184.24" width="85.9" height="105.51" fill="#0080ff"/>
<rect x="2023.6" y="1079.23" width="85.9" height="105.51" fill="#00bfff"/>
<rect x="2023.6" y="974.21" width="85.9" height="105.51" fill="#00ffff"/>
<rect x="2023.6" y="869.20" width="85.9" height="105.51" fill="#40ffbf"/>
<rect x="2023.6" y="764.19" width="85.9" height="105.51" fill="#80ff80"/>
<rect x="2023.6" y="659.17" width="85.9" height="105.51" fill="#bfff40"/>
<rect x="2023.6" y="554.16" width="85.9" height="105.51" fill="#ffff00"/>
<rect x="2023.6" y="449.14" width="85.9" height="105.51" fill="#ffbf00"/>
<rect x="2023.6" y="344.13" width="85.9" height="105.51" fill="#ff8000"/>
<rect x="2023.6" y="239.11" width="85.9" height="105.51" fill="#ff4000"/>
<rect x="2023.6" y="134.10" width="85.9" height="105.51" fill="#ff0000"/>
<g fill="none" stroke="#262626" stroke-width="1.5">
<rect x="2023.6" y="134.1" width="85.9" height="1470.2"/>
<path d="M2109.5,1499.3h-16M2109.5,1394.3h-16M2109.5,1289.3h-16M2109.5,1184.2h-16M2109.5,1079.2h-16M2109.5,974.2h-16M2109.5,869.2h-16M2109.5,764.2h-16M2109.5,659.2h-16M2109.5,554.2h-16M2109.5,449.1h-16M2109.5,344.1h-16M2109.5,239.1h-16"/></g>
<g fill="#262626" font-size="60.3">
<text x="2128.4" y="1516.6">-140</text>
<text x="2128.4" y="1411.6">-120</text>
<text x="2128.4" y="1306.6">-100</text>
<text x="2128.4" y="1201.5">-80</text>
<text x="2128.4" y="1096.5">-60</text>
<text x="2128.4" y="991.5">-40</text>
<text x="2128.4" y="886.5">-20</text>
<text x="2128.4" y="781.5">0</text>
<text x="2128.4" y="676.5">20</text>
<text x="2128.4" y="571.5">40</text>
<text x="2128.4" y="466.4">60</text>
<text x="2128.4" y="361.4">80</text>
<text x="2128.4" y="256.4">100</text>
</g>
<text x="2029.8" y="105.0" font-size="67" fill="#000">m/s</text>
</svg></body></html>
